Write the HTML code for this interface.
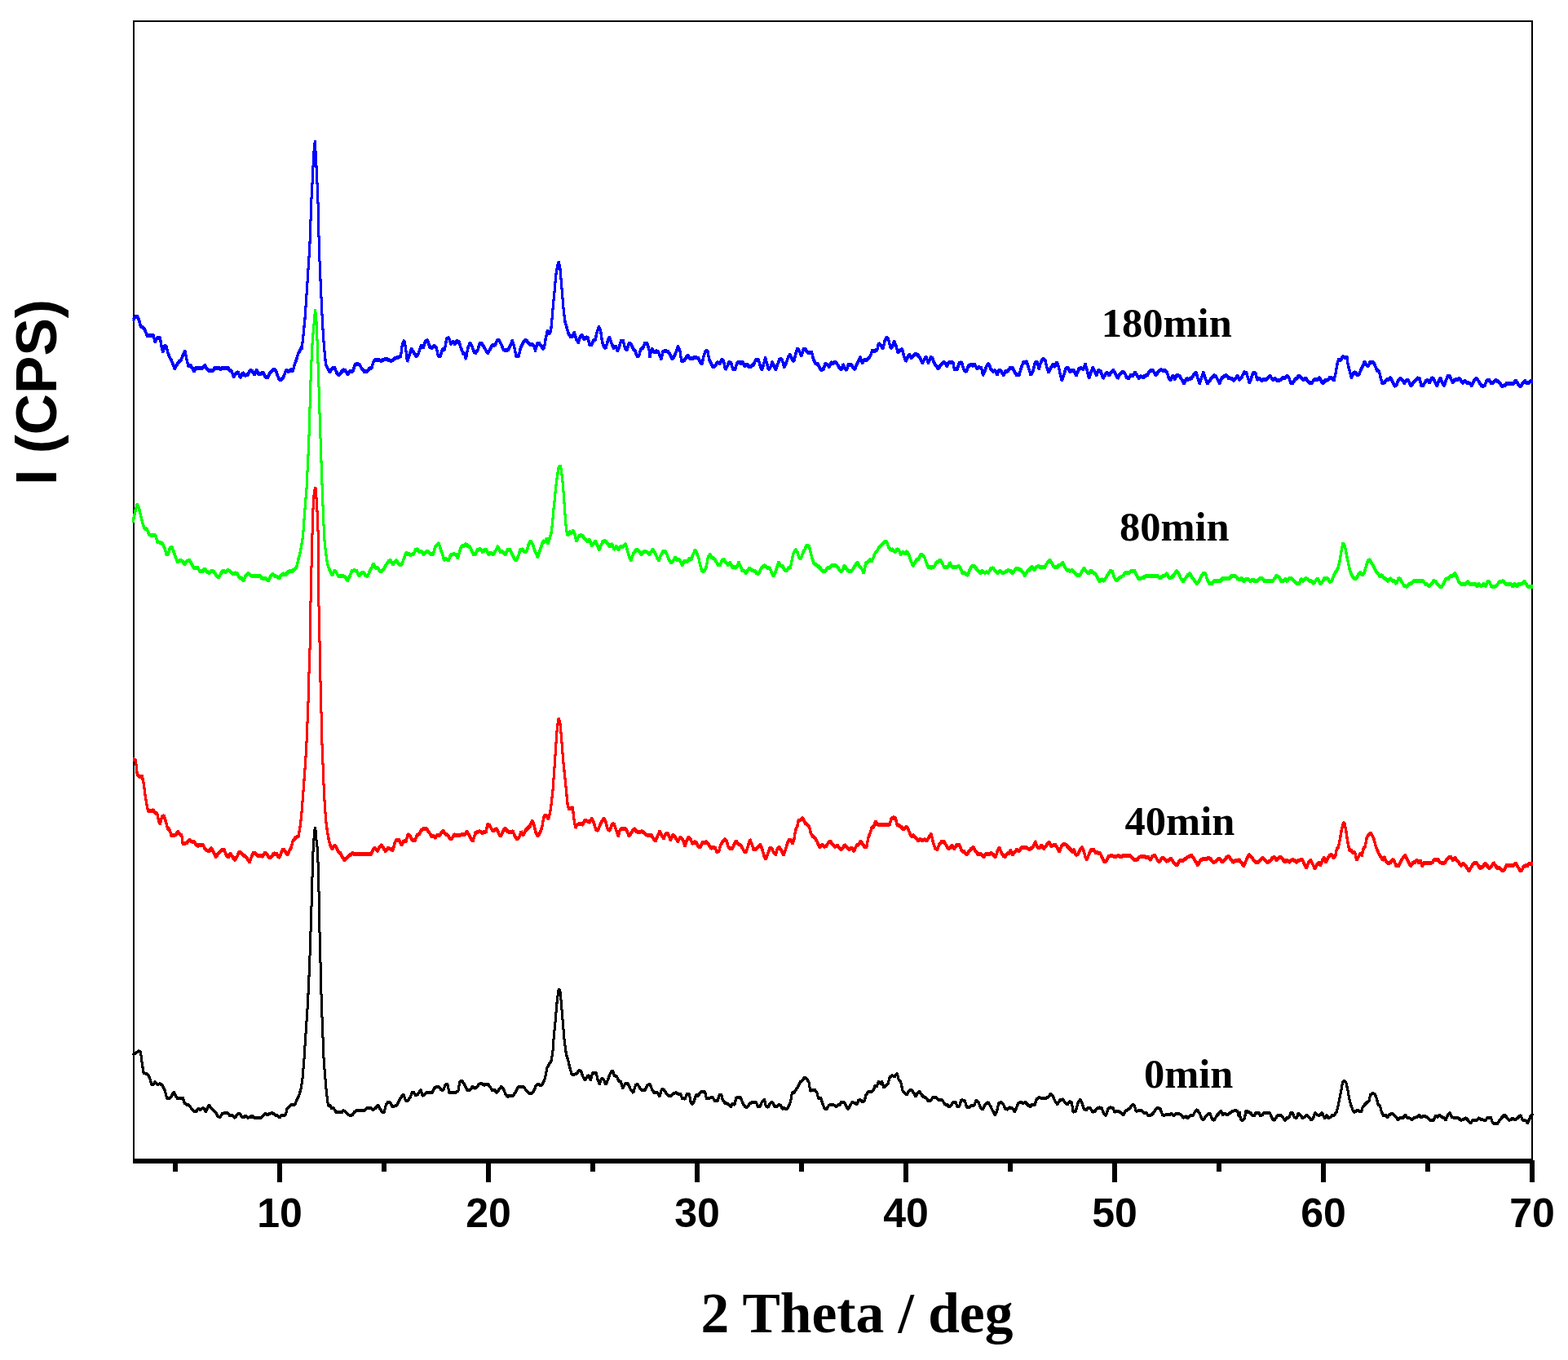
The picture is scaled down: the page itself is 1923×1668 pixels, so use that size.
<!DOCTYPE html>
<html lang="en">
<head>
<meta charset="utf-8">
<title>XRD patterns</title>
<style>
html,body{margin:0;padding:0;background:#fff;}
body{width:1923px;height:1668px;overflow:hidden;}
svg{display:block;}
.tick{font-family:"Liberation Sans",sans-serif;font-weight:bold;font-size:50px;fill:#000;text-anchor:middle;}
.ytitle{font-family:"Liberation Sans",sans-serif;font-weight:bold;font-size:69.5px;fill:#000;text-anchor:middle;}
.xtitle{font-family:"Liberation Serif",serif;font-weight:bold;font-size:69.5px;fill:#000;text-anchor:middle;}
.lab{font-family:"Liberation Serif",serif;font-weight:bold;font-size:50.5px;fill:#000;}
.curve{fill:none;stroke-linejoin:bevel;stroke-linecap:butt;}
</style>
</head>
<body>
<svg width="1923" height="1668" viewBox="0 0 1923 1668">
<rect x="0" y="0" width="1923" height="1668" fill="#ffffff"/>
<g fill="#000000" shape-rendering="crispEdges">
<rect x="163" y="25" width="1717" height="2"/>
<rect x="163" y="25" width="2" height="1402"/>
<rect x="1878" y="25" width="2" height="1400"/>
<rect x="163" y="1421" width="1716" height="6"/>
<rect x="212" y="1423" width="6" height="14"/>
<rect x="340" y="1423" width="6" height="27"/>
<rect x="468" y="1423" width="6" height="14"/>
<rect x="596" y="1423" width="6" height="27"/>
<rect x="724" y="1423" width="6" height="14"/>
<rect x="852" y="1423" width="6" height="27"/>
<rect x="980" y="1423" width="6" height="14"/>
<rect x="1108" y="1423" width="6" height="27"/>
<rect x="1236" y="1423" width="6" height="14"/>
<rect x="1364" y="1423" width="6" height="27"/>
<rect x="1492" y="1423" width="6" height="14"/>
<rect x="1620" y="1423" width="6" height="27"/>
<rect x="1748" y="1423" width="6" height="14"/>
<rect x="1876" y="1423" width="6" height="27"/>
</g>
<g shape-rendering="crispEdges">
<g stroke="#000000" stroke-width="3">
<polyline class="curve" points="163,1293.3 167.3,1290.5 170,1288.7 172.4,1289.6 173.7,1299.6 176,1315.1 178.2,1316 180.9,1316.9 183.7,1321.5 185.8,1329.7 188.2,1329.7 190,1326 192.8,1329.7 196.4,1328.7 199.1,1330.6 201.9,1336 204.6,1346 207.3,1346.9 210.1,1344.2 213.1,1338.8 215.5,1343.3 217.9,1346.9 221,1346 224.1,1346 226.4,1352.4 229.2,1354.2 231.9,1355.1 234.6,1358.8 237.4,1362.4 241,1362.4 243.4,1358.8 245.5,1360.6 248.3,1358.8 250.1,1358.8 252.5,1363.3 254.6,1357.9 256.5,1355.1 259.2,1358.8 261.9,1361.5 264.7,1364.2 267.4,1368.8 270.1,1369.7 272.5,1365.1 276.5,1364.8 279.2,1364.8 281.9,1367.9 285.6,1367.9 288.3,1370.6 291,1366.1 293.8,1364.8 296.5,1368.8 298.7,1370.2 301.1,1367.9 303.8,1370.2 307.4,1369.7 309.2,1367.9 311.1,1370.2 320.2,1370.2 322.9,1367.9 325.6,1365.1 328.4,1367 331.1,1365.1 334.7,1364.8 337.5,1367 340.2,1367.9 342.9,1370.2 345.6,1367 350.2,1367 352,1359.7 354.7,1357 357.5,1354.2 362,1354.2 363.8,1348.8 366.6,1343.3 369.3,1334.2 371.1,1321.5 372.9,1299.6 375.5,1259.5 377.5,1229.5 378.9,1199.5 380.5,1159.5 381.4,1129.5 382.4,1099.5 382.8,1083.5 383.6,1052.3 384.6,1033.5 385.2,1025.5 385.8,1018 386.5,1014.1 387.3,1019.9 387.9,1028.5 388.4,1033.5 389.6,1042.7 390.4,1069.7 391.2,1099.5 391.6,1129.5 392.5,1159.5 393.5,1199.5 394.3,1229.5 395.5,1259.5 397.1,1299.5 398.4,1316 400.3,1337.9 402.4,1355.1 404.8,1355.1 406.6,1358.8 409.3,1358.8 412.1,1363.3 414.8,1363.7 419.4,1363.7 421.2,1361.5 423.9,1363.3 426.6,1366.1 429.4,1367.9 432.1,1367 433.9,1364.2 436.7,1361.5 447.6,1361.1 449.4,1358.8 454.9,1358.8 457.6,1360.6 460.3,1358.8 463.6,1355.1 465.8,1358.8 468.5,1363.3 471.2,1363.3 473.4,1354.2 475.8,1351 478.5,1351.5 481.2,1357 484,1356 486.7,1355.1 488.5,1351.5 491.3,1346 494.9,1341.5 497.6,1349.7 500,1349.7 502.7,1346 505.5,1339.3 507.6,1339.3 510,1343.3 512.7,1341.5 516,1336 518.2,1343.3 520.4,1342.4 522.8,1339.3 527.3,1339.3 530,1339.7 532.8,1334.2 535.5,1332 538.2,1332.4 541,1336 543.7,1336.4 546.4,1329.7 548.8,1329.1 551,1339.7 554.6,1340 558.2,1339.7 561.9,1337.5 563.7,1326.6 566.4,1325.1 569.2,1328.7 572.8,1336.4 576.4,1336.4 579.2,1332.4 581.9,1334.2 584.6,1333.3 587.4,1329.1 591,1328.7 593.7,1330.2 598.3,1329.1 601,1332.4 603.7,1336.9 606.5,1336.4 609.2,1339.7 611.9,1336 614.7,1332 617.4,1335.1 620.1,1341.5 621.9,1344.2 629.2,1343.3 632,1339.7 634.7,1334.2 636.5,1332 642,1332 644.7,1336 648.3,1340 652.9,1340 655.6,1336 656.9,1331.5 660.2,1329.1 662,1330.2 664.7,1330.2 667.4,1325.1 669.3,1317.8 671.1,1308.7 673.8,1304.2 676.2,1300.5 678,1288.7 679.3,1270.5 681.1,1252.3 682.9,1230.5 684.7,1215.2 685.6,1212.1 687.1,1216.8 688.4,1230.5 690.2,1252.3 692,1274.1 694.4,1292.3 696.6,1299.6 698.8,1308.7 701.1,1316.9 703.8,1317.5 707.5,1316 710.2,1312.4 712.6,1313.3 714.8,1319.6 717.5,1324.2 720.2,1319.6 722,1318.7 724.2,1324.2 726.6,1316 731.1,1315.6 733,1323.3 735.2,1329.7 737.5,1322.4 740.2,1323.3 743,1329.7 745.7,1323.3 748.4,1316 751.2,1312.4 753.4,1318.7 756.6,1319.6 758.5,1325.1 761.2,1326 763.9,1334.2 766.6,1328.7 770.3,1328.7 773,1335.1 776.7,1339.7 779.4,1330.6 781.7,1328.7 784.8,1334.2 787.6,1336.9 791.2,1336.4 793.9,1330.6 797,1329.1 799.4,1335.1 802.1,1339.7 806.7,1339.7 809,1344.2 811.2,1336 814,1335.7 816.7,1339.7 819.4,1343.3 823.1,1343.3 825.8,1340.6 829.4,1339.7 832.2,1341.5 834.9,1341.5 836.7,1346.9 839.4,1346.9 840,1347.9 842.2,1341.5 845.5,1341.5 846.9,1350.6 849.1,1353.9 851.3,1349.7 853.7,1342.4 856.4,1343.3 859.1,1338.8 864.6,1338.8 866.4,1346.9 869.1,1346.9 871.9,1345.5 874.6,1346 876.4,1349.7 880,1349.7 882.2,1342.4 884.6,1341.9 886.4,1348.8 889.1,1352.4 892.8,1353.3 896.1,1357 898.2,1353.3 901,1354.2 902.8,1346 905.5,1345.1 908.3,1346 911,1352.4 913.7,1357 916.4,1357.5 919.2,1353.3 921.9,1351.5 927.4,1351.5 929.2,1356.4 931.9,1357 934.6,1350.6 937.4,1347.9 939.2,1356 941.9,1357.5 944.7,1352.4 947,1351 950.1,1356.4 952.8,1357 955,1354.6 957.4,1355.1 959.2,1359.7 961.6,1357.9 963.8,1360.1 966.5,1357.9 969.6,1350.6 971.4,1339.7 973.8,1339.7 976.1,1336 978.3,1333.3 981.1,1326.9 983.8,1325.1 986.5,1321.1 989.2,1322.4 992,1326.9 993.8,1337.5 996.5,1336 999.3,1336.4 1002,1339.7 1003.8,1346.9 1006.5,1346 1008.9,1353.3 1011.1,1358.8 1013.8,1359.7 1016.5,1355.1 1020.2,1354.6 1023.8,1355.1 1025.6,1357 1027.5,1354.6 1030.2,1354.6 1031.1,1351.5 1035.7,1351.5 1037.5,1356 1040.2,1359.7 1042.9,1355.1 1044.8,1351.5 1048.4,1352.4 1051.1,1353.9 1052.9,1348.8 1055.7,1348.8 1057.5,1350.6 1060.2,1349.7 1062,1342.4 1064.8,1338.8 1068.4,1338.8 1071.1,1336.9 1073,1331.5 1075.2,1332 1077.5,1326 1079.9,1328.7 1081.7,1326 1083.9,1333.3 1086.6,1330.6 1089,1328.7 1091.2,1320.6 1093.9,1318.7 1097.5,1319.6 1100.3,1316 1102.1,1323.3 1104.8,1326.9 1107.2,1337.8 1109.4,1339.7 1112.1,1342.4 1114.5,1337.8 1117.6,1335.7 1120.3,1339.7 1123,1344.2 1125.4,1339.7 1127.6,1338.2 1130.3,1342.4 1133,1345.1 1135.8,1346 1138.5,1349.7 1141.2,1349.7 1144,1345.5 1147.6,1345.5 1150.3,1347.9 1153.1,1348.8 1155.8,1348.8 1158.5,1353.9 1161.2,1354.2 1164,1357 1166.7,1355.1 1169.1,1351 1172.2,1351.5 1174,1357 1176.7,1356 1178.9,1348.8 1180,1348.8 1183.3,1349.7 1185.5,1357 1189.1,1357.5 1191.8,1355.1 1194.6,1355.7 1197.3,1348.8 1200,1351.5 1202.8,1358.8 1205.5,1359.7 1208.2,1354.2 1211.9,1351.5 1214.6,1356 1217.3,1361.5 1220.4,1367 1222.8,1361.5 1224.6,1353.3 1227.7,1351 1230.6,1354.2 1232.8,1359.7 1235.5,1360.1 1237.9,1357.9 1241.9,1358.8 1244.1,1363.3 1246.4,1358.8 1248.8,1352.4 1251.9,1351.5 1254.6,1352.4 1257.4,1351.5 1260.1,1354.2 1263.4,1357 1265.5,1354.2 1269.2,1354.6 1271,1347.9 1274.6,1345.5 1278.3,1346.9 1281.9,1346.9 1285.6,1344.8 1288.8,1341.1 1291.4,1344.2 1293.8,1349.7 1296.8,1353.9 1299.8,1348.8 1303.8,1347.9 1306.5,1352.4 1309.2,1354.2 1311.4,1350.6 1314.3,1351.5 1316.1,1363.3 1319.2,1362.4 1322,1352.4 1324.7,1347.9 1327.1,1352.4 1329.2,1359.7 1332.5,1360.6 1334.7,1357.9 1337.4,1358.8 1339.8,1363.3 1342.9,1362.4 1345.6,1358.8 1348.9,1357.9 1351.1,1358.8 1353.3,1364.2 1356.2,1367.9 1359.3,1358.8 1362,1357.9 1365.3,1358.2 1366.6,1363.3 1369.3,1362.4 1372.9,1363 1374.7,1364.2 1377.5,1367 1380.2,1362.4 1382.9,1360.6 1385.7,1358.8 1388.4,1354.6 1391.1,1355.1 1393.3,1362.4 1396.6,1361.5 1400.2,1361.9 1402.4,1364.2 1405.7,1364.2 1408.4,1367.9 1412.1,1367 1414.8,1364.2 1417.5,1359.7 1420.2,1357.9 1423,1359.7 1425.7,1367 1428.4,1367.3 1431.2,1366.1 1433.9,1367 1436.6,1365.1 1439.4,1367.9 1442.1,1365.1 1445.7,1365.1 1448.5,1367 1451.2,1370.2 1454.8,1368.8 1456.7,1370.6 1459.4,1367.9 1463,1367.9 1465.8,1362.4 1468.5,1360.6 1471.2,1365.1 1473.4,1370.6 1475.8,1373.3 1478.5,1368.8 1481.2,1366.1 1484,1365.1 1486.7,1372.4 1489.4,1373.3 1492.1,1367.9 1494.9,1365.1 1497.6,1361.5 1499.4,1367 1502.2,1365.1 1504.9,1367 1507.6,1365.1 1511.3,1362.4 1514.9,1361.5 1517.6,1362.4 1519.4,1368.8 1520,1363.3 1521.5,1372.4 1524,1373.9 1526.4,1370.6 1528.2,1361.5 1530.9,1363.7 1533.7,1364.2 1536,1367.9 1538.2,1367.9 1540,1364.2 1543.7,1364.2 1545.5,1367.9 1548.2,1367 1550,1364.2 1557.3,1364.2 1559.1,1368.8 1561.5,1373.3 1563.7,1372.4 1566.4,1367.9 1569.1,1367 1571.9,1367.9 1573.7,1370.6 1576.1,1373.9 1578.2,1370.6 1581,1370.2 1582.8,1364.2 1585.2,1364.8 1587.3,1369.7 1590.1,1370.6 1592.4,1364.8 1594.6,1367 1597.4,1370.6 1600.1,1369.7 1602.8,1367 1605.2,1369.7 1608.3,1373.3 1611,1369.7 1612.8,1364.2 1615.6,1367 1619.2,1367 1621.6,1364.2 1623.4,1368.8 1624.7,1371 1627,1367 1629.2,1370.6 1631.9,1369.7 1633.8,1367 1636.5,1367 1639.2,1363.3 1641,1356 1642.9,1346.9 1644.7,1337.8 1646.5,1326.9 1648.3,1325.1 1650.7,1326.9 1652.9,1336 1654.7,1346.9 1656.9,1355.1 1659.2,1361.5 1661.1,1363.7 1663.8,1361.5 1666.5,1361.9 1669.6,1363.3 1671.1,1357.9 1673.8,1354.2 1676.5,1351.5 1679.3,1349.7 1680.5,1342.4 1682.9,1340.6 1685.6,1341.1 1687.8,1345.1 1690.2,1354.2 1692.5,1356 1694.4,1363.3 1696.5,1367.9 1699.3,1367 1701.1,1370.2 1703.8,1367 1706.6,1364.8 1709.3,1367 1712,1369.7 1714.7,1372.8 1717.5,1370.6 1721.1,1370.2 1723.5,1367 1725.7,1370.6 1729.3,1371 1731.5,1373.3 1733.9,1370.6 1737.5,1369.7 1740.2,1367 1743,1370.2 1745.7,1367.9 1748.4,1368.8 1751.1,1370.6 1753.3,1373.3 1758.4,1373.3 1760.6,1367.9 1763,1369.7 1765.7,1367 1768.4,1369.7 1771.2,1370.6 1773,1373.3 1775.7,1367 1778.1,1364.2 1780.6,1369.7 1783.9,1370.6 1788.5,1370.6 1791.2,1373.3 1794.8,1372.8 1797.6,1370.6 1800.3,1373.3 1803.6,1377 1805.8,1373.9 1811.2,1373.3 1813.4,1370.6 1816.7,1372.8 1822.1,1373.3 1824.3,1370.2 1828.5,1370.2 1830.3,1376.1 1832.7,1377.9 1836.7,1377.5 1839.4,1373.3 1842.2,1369.7 1844.9,1367 1847.6,1369.7 1850.3,1373.3 1853.1,1372.8 1855.3,1370.6 1858.2,1373.3 1861.3,1370.6 1864.9,1367.3 1867,1372.8 1869.5,1373.8 1872.1,1374.1 1873.3,1377.2 1875.2,1373.4 1876.9,1369 1880,1365.2"/>
<polyline class="curve" transform="translate(0 1)" points="163,1293.3 167.3,1290.5 170,1288.7 172.4,1289.6 173.7,1299.6 176,1315.1 178.2,1316 180.9,1316.9 183.7,1321.5 185.8,1329.7 188.2,1329.7 190,1326 192.8,1329.7 196.4,1328.7 199.1,1330.6 201.9,1336 204.6,1346 207.3,1346.9 210.1,1344.2 213.1,1338.8 215.5,1343.3 217.9,1346.9 221,1346 224.1,1346 226.4,1352.4 229.2,1354.2 231.9,1355.1 234.6,1358.8 237.4,1362.4 241,1362.4 243.4,1358.8 245.5,1360.6 248.3,1358.8 250.1,1358.8 252.5,1363.3 254.6,1357.9 256.5,1355.1 259.2,1358.8 261.9,1361.5 264.7,1364.2 267.4,1368.8 270.1,1369.7 272.5,1365.1 276.5,1364.8 279.2,1364.8 281.9,1367.9 285.6,1367.9 288.3,1370.6 291,1366.1 293.8,1364.8 296.5,1368.8 298.7,1370.2 301.1,1367.9 303.8,1370.2 307.4,1369.7 309.2,1367.9 311.1,1370.2 320.2,1370.2 322.9,1367.9 325.6,1365.1 328.4,1367 331.1,1365.1 334.7,1364.8 337.5,1367 340.2,1367.9 342.9,1370.2 345.6,1367 350.2,1367 352,1359.7 354.7,1357 357.5,1354.2 362,1354.2 363.8,1348.8 366.6,1343.3 369.3,1334.2 371.1,1321.5 372.9,1299.6 375.5,1259.5 377.5,1229.5 378.9,1199.5 380.5,1159.5 381.4,1129.5 382.4,1099.5 382.8,1083.5 383.6,1052.3 384.6,1033.5 385.2,1025.5 385.8,1018 386.5,1014.1 387.3,1019.9 387.9,1028.5 388.4,1033.5 389.6,1042.7 390.4,1069.7 391.2,1099.5 391.6,1129.5 392.5,1159.5 393.5,1199.5 394.3,1229.5 395.5,1259.5 397.1,1299.5 398.4,1316 400.3,1337.9 402.4,1355.1 404.8,1355.1 406.6,1358.8 409.3,1358.8 412.1,1363.3 414.8,1363.7 419.4,1363.7 421.2,1361.5 423.9,1363.3 426.6,1366.1 429.4,1367.9 432.1,1367 433.9,1364.2 436.7,1361.5 447.6,1361.1 449.4,1358.8 454.9,1358.8 457.6,1360.6 460.3,1358.8 463.6,1355.1 465.8,1358.8 468.5,1363.3 471.2,1363.3 473.4,1354.2 475.8,1351 478.5,1351.5 481.2,1357 484,1356 486.7,1355.1 488.5,1351.5 491.3,1346 494.9,1341.5 497.6,1349.7 500,1349.7 502.7,1346 505.5,1339.3 507.6,1339.3 510,1343.3 512.7,1341.5 516,1336 518.2,1343.3 520.4,1342.4 522.8,1339.3 527.3,1339.3 530,1339.7 532.8,1334.2 535.5,1332 538.2,1332.4 541,1336 543.7,1336.4 546.4,1329.7 548.8,1329.1 551,1339.7 554.6,1340 558.2,1339.7 561.9,1337.5 563.7,1326.6 566.4,1325.1 569.2,1328.7 572.8,1336.4 576.4,1336.4 579.2,1332.4 581.9,1334.2 584.6,1333.3 587.4,1329.1 591,1328.7 593.7,1330.2 598.3,1329.1 601,1332.4 603.7,1336.9 606.5,1336.4 609.2,1339.7 611.9,1336 614.7,1332 617.4,1335.1 620.1,1341.5 621.9,1344.2 629.2,1343.3 632,1339.7 634.7,1334.2 636.5,1332 642,1332 644.7,1336 648.3,1340 652.9,1340 655.6,1336 656.9,1331.5 660.2,1329.1 662,1330.2 664.7,1330.2 667.4,1325.1 669.3,1317.8 671.1,1308.7 673.8,1304.2 676.2,1300.5 678,1288.7 679.3,1270.5 681.1,1252.3 682.9,1230.5 684.7,1215.2 685.6,1212.1 687.1,1216.8 688.4,1230.5 690.2,1252.3 692,1274.1 694.4,1292.3 696.6,1299.6 698.8,1308.7 701.1,1316.9 703.8,1317.5 707.5,1316 710.2,1312.4 712.6,1313.3 714.8,1319.6 717.5,1324.2 720.2,1319.6 722,1318.7 724.2,1324.2 726.6,1316 731.1,1315.6 733,1323.3 735.2,1329.7 737.5,1322.4 740.2,1323.3 743,1329.7 745.7,1323.3 748.4,1316 751.2,1312.4 753.4,1318.7 756.6,1319.6 758.5,1325.1 761.2,1326 763.9,1334.2 766.6,1328.7 770.3,1328.7 773,1335.1 776.7,1339.7 779.4,1330.6 781.7,1328.7 784.8,1334.2 787.6,1336.9 791.2,1336.4 793.9,1330.6 797,1329.1 799.4,1335.1 802.1,1339.7 806.7,1339.7 809,1344.2 811.2,1336 814,1335.7 816.7,1339.7 819.4,1343.3 823.1,1343.3 825.8,1340.6 829.4,1339.7 832.2,1341.5 834.9,1341.5 836.7,1346.9 839.4,1346.9 840,1347.9 842.2,1341.5 845.5,1341.5 846.9,1350.6 849.1,1353.9 851.3,1349.7 853.7,1342.4 856.4,1343.3 859.1,1338.8 864.6,1338.8 866.4,1346.9 869.1,1346.9 871.9,1345.5 874.6,1346 876.4,1349.7 880,1349.7 882.2,1342.4 884.6,1341.9 886.4,1348.8 889.1,1352.4 892.8,1353.3 896.1,1357 898.2,1353.3 901,1354.2 902.8,1346 905.5,1345.1 908.3,1346 911,1352.4 913.7,1357 916.4,1357.5 919.2,1353.3 921.9,1351.5 927.4,1351.5 929.2,1356.4 931.9,1357 934.6,1350.6 937.4,1347.9 939.2,1356 941.9,1357.5 944.7,1352.4 947,1351 950.1,1356.4 952.8,1357 955,1354.6 957.4,1355.1 959.2,1359.7 961.6,1357.9 963.8,1360.1 966.5,1357.9 969.6,1350.6 971.4,1339.7 973.8,1339.7 976.1,1336 978.3,1333.3 981.1,1326.9 983.8,1325.1 986.5,1321.1 989.2,1322.4 992,1326.9 993.8,1337.5 996.5,1336 999.3,1336.4 1002,1339.7 1003.8,1346.9 1006.5,1346 1008.9,1353.3 1011.1,1358.8 1013.8,1359.7 1016.5,1355.1 1020.2,1354.6 1023.8,1355.1 1025.6,1357 1027.5,1354.6 1030.2,1354.6 1031.1,1351.5 1035.7,1351.5 1037.5,1356 1040.2,1359.7 1042.9,1355.1 1044.8,1351.5 1048.4,1352.4 1051.1,1353.9 1052.9,1348.8 1055.7,1348.8 1057.5,1350.6 1060.2,1349.7 1062,1342.4 1064.8,1338.8 1068.4,1338.8 1071.1,1336.9 1073,1331.5 1075.2,1332 1077.5,1326 1079.9,1328.7 1081.7,1326 1083.9,1333.3 1086.6,1330.6 1089,1328.7 1091.2,1320.6 1093.9,1318.7 1097.5,1319.6 1100.3,1316 1102.1,1323.3 1104.8,1326.9 1107.2,1337.8 1109.4,1339.7 1112.1,1342.4 1114.5,1337.8 1117.6,1335.7 1120.3,1339.7 1123,1344.2 1125.4,1339.7 1127.6,1338.2 1130.3,1342.4 1133,1345.1 1135.8,1346 1138.5,1349.7 1141.2,1349.7 1144,1345.5 1147.6,1345.5 1150.3,1347.9 1153.1,1348.8 1155.8,1348.8 1158.5,1353.9 1161.2,1354.2 1164,1357 1166.7,1355.1 1169.1,1351 1172.2,1351.5 1174,1357 1176.7,1356 1178.9,1348.8 1180,1348.8 1183.3,1349.7 1185.5,1357 1189.1,1357.5 1191.8,1355.1 1194.6,1355.7 1197.3,1348.8 1200,1351.5 1202.8,1358.8 1205.5,1359.7 1208.2,1354.2 1211.9,1351.5 1214.6,1356 1217.3,1361.5 1220.4,1367 1222.8,1361.5 1224.6,1353.3 1227.7,1351 1230.6,1354.2 1232.8,1359.7 1235.5,1360.1 1237.9,1357.9 1241.9,1358.8 1244.1,1363.3 1246.4,1358.8 1248.8,1352.4 1251.9,1351.5 1254.6,1352.4 1257.4,1351.5 1260.1,1354.2 1263.4,1357 1265.5,1354.2 1269.2,1354.6 1271,1347.9 1274.6,1345.5 1278.3,1346.9 1281.9,1346.9 1285.6,1344.8 1288.8,1341.1 1291.4,1344.2 1293.8,1349.7 1296.8,1353.9 1299.8,1348.8 1303.8,1347.9 1306.5,1352.4 1309.2,1354.2 1311.4,1350.6 1314.3,1351.5 1316.1,1363.3 1319.2,1362.4 1322,1352.4 1324.7,1347.9 1327.1,1352.4 1329.2,1359.7 1332.5,1360.6 1334.7,1357.9 1337.4,1358.8 1339.8,1363.3 1342.9,1362.4 1345.6,1358.8 1348.9,1357.9 1351.1,1358.8 1353.3,1364.2 1356.2,1367.9 1359.3,1358.8 1362,1357.9 1365.3,1358.2 1366.6,1363.3 1369.3,1362.4 1372.9,1363 1374.7,1364.2 1377.5,1367 1380.2,1362.4 1382.9,1360.6 1385.7,1358.8 1388.4,1354.6 1391.1,1355.1 1393.3,1362.4 1396.6,1361.5 1400.2,1361.9 1402.4,1364.2 1405.7,1364.2 1408.4,1367.9 1412.1,1367 1414.8,1364.2 1417.5,1359.7 1420.2,1357.9 1423,1359.7 1425.7,1367 1428.4,1367.3 1431.2,1366.1 1433.9,1367 1436.6,1365.1 1439.4,1367.9 1442.1,1365.1 1445.7,1365.1 1448.5,1367 1451.2,1370.2 1454.8,1368.8 1456.7,1370.6 1459.4,1367.9 1463,1367.9 1465.8,1362.4 1468.5,1360.6 1471.2,1365.1 1473.4,1370.6 1475.8,1373.3 1478.5,1368.8 1481.2,1366.1 1484,1365.1 1486.7,1372.4 1489.4,1373.3 1492.1,1367.9 1494.9,1365.1 1497.6,1361.5 1499.4,1367 1502.2,1365.1 1504.9,1367 1507.6,1365.1 1511.3,1362.4 1514.9,1361.5 1517.6,1362.4 1519.4,1368.8 1520,1363.3 1521.5,1372.4 1524,1373.9 1526.4,1370.6 1528.2,1361.5 1530.9,1363.7 1533.7,1364.2 1536,1367.9 1538.2,1367.9 1540,1364.2 1543.7,1364.2 1545.5,1367.9 1548.2,1367 1550,1364.2 1557.3,1364.2 1559.1,1368.8 1561.5,1373.3 1563.7,1372.4 1566.4,1367.9 1569.1,1367 1571.9,1367.9 1573.7,1370.6 1576.1,1373.9 1578.2,1370.6 1581,1370.2 1582.8,1364.2 1585.2,1364.8 1587.3,1369.7 1590.1,1370.6 1592.4,1364.8 1594.6,1367 1597.4,1370.6 1600.1,1369.7 1602.8,1367 1605.2,1369.7 1608.3,1373.3 1611,1369.7 1612.8,1364.2 1615.6,1367 1619.2,1367 1621.6,1364.2 1623.4,1368.8 1624.7,1371 1627,1367 1629.2,1370.6 1631.9,1369.7 1633.8,1367 1636.5,1367 1639.2,1363.3 1641,1356 1642.9,1346.9 1644.7,1337.8 1646.5,1326.9 1648.3,1325.1 1650.7,1326.9 1652.9,1336 1654.7,1346.9 1656.9,1355.1 1659.2,1361.5 1661.1,1363.7 1663.8,1361.5 1666.5,1361.9 1669.6,1363.3 1671.1,1357.9 1673.8,1354.2 1676.5,1351.5 1679.3,1349.7 1680.5,1342.4 1682.9,1340.6 1685.6,1341.1 1687.8,1345.1 1690.2,1354.2 1692.5,1356 1694.4,1363.3 1696.5,1367.9 1699.3,1367 1701.1,1370.2 1703.8,1367 1706.6,1364.8 1709.3,1367 1712,1369.7 1714.7,1372.8 1717.5,1370.6 1721.1,1370.2 1723.5,1367 1725.7,1370.6 1729.3,1371 1731.5,1373.3 1733.9,1370.6 1737.5,1369.7 1740.2,1367 1743,1370.2 1745.7,1367.9 1748.4,1368.8 1751.1,1370.6 1753.3,1373.3 1758.4,1373.3 1760.6,1367.9 1763,1369.7 1765.7,1367 1768.4,1369.7 1771.2,1370.6 1773,1373.3 1775.7,1367 1778.1,1364.2 1780.6,1369.7 1783.9,1370.6 1788.5,1370.6 1791.2,1373.3 1794.8,1372.8 1797.6,1370.6 1800.3,1373.3 1803.6,1377 1805.8,1373.9 1811.2,1373.3 1813.4,1370.6 1816.7,1372.8 1822.1,1373.3 1824.3,1370.2 1828.5,1370.2 1830.3,1376.1 1832.7,1377.9 1836.7,1377.5 1839.4,1373.3 1842.2,1369.7 1844.9,1367 1847.6,1369.7 1850.3,1373.3 1853.1,1372.8 1855.3,1370.6 1858.2,1373.3 1861.3,1370.6 1864.9,1367.3 1867,1372.8 1869.5,1373.8 1872.1,1374.1 1873.3,1377.2 1875.2,1373.4 1876.9,1369 1880,1365.2"/>
</g>
<g stroke="#ff0000" stroke-width="3">
<polyline class="curve" points="163,930 166.4,931.8 168.2,948.2 170.9,951.8 174.2,950.9 176.4,960.9 178.2,975.5 179.7,984.6 181.5,993.7 184.6,994 188.2,992.8 190.6,996.4 192.8,996.9 194.6,1006.4 196.4,1009.1 198.6,1000.9 201,999.5 203.3,1006.4 205.5,1014.6 208.2,1017.3 210.1,1023.7 212.8,1023.7 215.5,1022.8 218.2,1019.1 221,1022.8 222.8,1023.7 224.1,1033.7 227,1033.3 229.2,1032.8 231.9,1029.2 234.6,1031 238.3,1031.5 240.1,1034.6 242.8,1036.4 245.5,1035.2 249.2,1035.2 251.4,1040.1 253.7,1041.9 256.5,1042.8 259.2,1039.2 261.9,1044.6 264.7,1050.1 267.4,1046.4 270.1,1043.7 272.8,1041 275,1041.4 277.4,1047.4 280.1,1050.1 282.3,1045.5 285.2,1050.1 288.3,1053.7 291,1049.2 292.9,1044.6 295.6,1045 298.3,1048.3 301.1,1049.2 303.8,1052.8 306,1056.5 308.3,1050.1 310.7,1045 313.3,1045.5 316.5,1049.2 319.3,1048.3 322,1049.2 324.7,1045 327.1,1046.1 329.3,1050.1 332.9,1050.1 335.6,1045.5 337.5,1047.4 339.3,1045.5 341.6,1050.5 343.8,1048.3 346,1041.9 348.4,1041 350.7,1044.6 352.6,1047.4 355.1,1041.9 357.5,1037.3 359.3,1030.1 361.7,1027.3 363.8,1025.5 366,1024.6 367.9,1013.7 369.7,999.1 371.1,980.9 372.6,960.9 374.4,937.2 375.9,911.8 376.6,894 377.8,867.9 378.8,830.1 380.1,792.4 380.9,742 382.3,681 382.6,669.2 383.6,632 384.6,611 385.6,602 386.5,597.2 387.5,600 388.6,620.6 389.6,633.2 390.5,670.4 391,742 391.9,779.8 392.9,830.1 393.9,867.9 394.4,889 394.8,906.3 395.9,933.6 397,960.9 398.4,988.2 400.2,1010 402.4,1024.6 404.8,1035.5 407.5,1040.1 410.3,1035.5 412.6,1038.3 414.8,1043.7 417.5,1045.5 419.9,1050.1 422.1,1053.7 424.8,1051.9 428.5,1048.3 432.1,1045.5 434.8,1046.4 454.9,1046.4 457.6,1041 459.9,1039.2 463,1042.8 465.8,1037.3 468,1035.5 470.3,1039.2 472.7,1042.8 475.8,1039.2 478.5,1040.1 481.8,1041.9 484,1033.7 485.8,1029.2 489.4,1029.2 492.2,1035.5 494.9,1031 498.2,1030.1 500,1022.8 502.7,1023.7 505.5,1029.2 508.7,1030.1 511.3,1023.7 514.2,1021.9 516.7,1017.3 520,1015.2 523.3,1015.9 526.4,1020.1 529.1,1024.3 531.9,1024.6 534.2,1026.4 536.4,1022.8 539.1,1023.7 541.5,1020.1 543.7,1018.3 546.4,1021.9 549.1,1023.7 551.9,1027.4 554.2,1027.4 556.8,1022.8 560.1,1023.7 563.7,1023.7 566.4,1022.4 570.1,1022.8 572.8,1018.8 575.5,1023.7 577.9,1028.3 580.1,1030.5 582.8,1021 585.5,1019.2 588.8,1018.8 591,1020.6 593.7,1019.5 596.1,1019.2 597.9,1010.1 601,1011.9 603.7,1017.3 606.5,1017.3 609.2,1015.5 611.9,1021.9 613.8,1024.6 616.5,1019.2 619.2,1015.2 622.3,1018.3 624.7,1020.1 629.2,1018.8 631.4,1024.6 633.8,1027.9 636.5,1026.4 639.2,1019.2 641.6,1023.7 644.7,1017.3 647.4,1014.6 650.2,1011.9 652.5,1005.5 654.7,1010.1 656.9,1019.2 659.3,1024.6 662,1021 664.7,1013.7 666.5,1002.8 668.4,999.1 671.1,1000.1 672.5,1003.7 674.7,995.5 676.2,984.6 678,968.2 679.3,950 680.6,931.8 682,910 683.5,889.9 685.3,879.9 687.1,888.1 688.9,908.1 690.7,931.8 692.6,950 694.4,968.2 696.2,986.4 697.5,991 700.2,990.4 702.4,989.7 703.8,1002.8 705.7,1013.7 708.4,1010.1 711.1,1009.7 714.8,1010.1 717,1005.5 720.2,1006.1 723,1007.3 725.7,1002.8 728.4,1008.2 730.8,1016.4 733.3,1017.3 735.7,1011 738.1,1006.4 740.6,1002.8 743,1007.3 745.3,1016.4 747.9,1017.3 750.8,1009.7 753.4,1010.1 755.7,1017.3 758.1,1024.3 760.3,1017.3 763,1015.2 767.6,1015.5 769.7,1020.1 771.6,1024.6 774.5,1020.1 777.6,1015.5 780.3,1018.3 783,1020.1 786.7,1018.8 789.4,1019.5 792.1,1022.8 795.8,1023.7 798.5,1022.8 801.2,1027.4 804.3,1030.1 806.7,1023.7 809,1018.8 811.6,1023.7 814,1027.4 816.3,1021.9 819.4,1021.9 822.2,1029.2 825.4,1022.8 828.5,1026.4 831.3,1031 834.5,1025.5 837.6,1029.2 839.6,1035.5 840,1036.4 842.2,1030 844.6,1025.5 847.3,1029.1 849.1,1033.7 851.8,1031.5 854.2,1032.8 856.4,1037.3 859.1,1037.3 861.5,1032.2 864,1032.8 866.4,1031.5 869.1,1035.1 871.9,1039.1 874.6,1038.8 877.3,1039.1 879.1,1043.7 881.9,1042.8 883.7,1035.5 886.4,1031 889.1,1028.2 891.3,1031 893.1,1037.3 896.1,1040.1 898.6,1039.1 901,1032.8 903.3,1031 905.9,1034.6 908.3,1035.5 910.6,1039.1 912.8,1043.7 915.5,1043.1 917.4,1036.4 919.7,1029.1 921.9,1033.7 924.1,1040.6 927,1040.6 929.5,1038.2 932.5,1035.1 934.6,1040.1 936.8,1048.2 939.2,1052.8 941.6,1046.4 944.1,1039.1 946.5,1039.5 948.8,1044.6 951.4,1047.3 953.2,1040.1 955.6,1038.2 958.3,1041.9 961,1047.3 963.4,1041 965.6,1033.7 967.8,1029.1 970.1,1029.7 972,1033.7 974.3,1026.4 975.6,1017.3 978,1011.8 979.2,1005.5 982,1004.6 984.7,1002.4 987.1,1008.2 990.2,1010.4 992.5,1012.8 994.3,1020.9 996.5,1024.6 999.3,1026.4 1001.6,1030 1003.8,1035.5 1005.6,1038.2 1008.4,1035.5 1011.1,1037.3 1013.8,1036.4 1016.2,1031.9 1018.4,1031 1021.1,1034.6 1023.8,1037.3 1027.5,1036.4 1030.2,1040.1 1032.9,1040.1 1035.7,1035.5 1038.4,1038.2 1041.1,1040.6 1044.8,1039.1 1047.5,1042.8 1050.2,1036.4 1052.9,1034.6 1055.7,1031 1058.4,1034.6 1060.6,1038.2 1063,1037.3 1064.8,1026.4 1067.1,1020.9 1069,1014.6 1071.5,1012.8 1073.9,1006.4 1075.7,1010 1091.2,1010 1093,1003.7 1095.7,1001.8 1098.5,1002.7 1099.9,1010 1103,1011.8 1105.7,1013.7 1108.5,1016.4 1111.2,1012.8 1113.4,1014.6 1115.7,1020.9 1117.6,1024.6 1120.3,1023.7 1123,1026.4 1125.8,1030 1128.5,1028.6 1131.2,1030 1133.9,1028.6 1137,1030 1139.9,1024.6 1142.1,1021.9 1144.3,1031.9 1146.7,1039.1 1149.4,1041 1152.1,1034.6 1154.9,1031 1157.6,1031 1160.3,1035.5 1163.1,1040.1 1165.8,1038.2 1167.6,1036.4 1170.3,1040.1 1173.1,1035.5 1176.7,1035.1 1178.9,1041 1180,1042.8 1182.7,1043.7 1185.5,1047.3 1188.2,1043.7 1190.9,1040.1 1193.7,1038.2 1196.4,1042.8 1199.1,1046.4 1202.8,1046.1 1206.4,1050.1 1209.1,1046.4 1212.8,1046.8 1215.5,1045.5 1218.2,1047.3 1221,1050.1 1223.3,1042.8 1225.5,1038.2 1227.7,1043.7 1230.1,1048.2 1232.4,1050.1 1235,1046.1 1237.9,1045.5 1239.2,1041.9 1241.9,1047.3 1244.6,1043.7 1247,1041 1250.1,1042.8 1252.8,1038.8 1258.3,1038.2 1261.9,1040.6 1265.5,1039.1 1268.3,1035.5 1269.5,1031 1271.9,1037.3 1274.6,1039.1 1277.4,1035.5 1280.1,1040.1 1282.8,1036.4 1286.5,1031.5 1288.8,1036.4 1291.9,1035.9 1294.3,1035.1 1296.8,1039.1 1299.2,1043.7 1301.6,1037.3 1303.8,1034.6 1307.4,1035.1 1310.1,1038.2 1312.9,1041 1315.6,1043.7 1317.4,1041 1319.2,1047.3 1322,1046.8 1324.7,1041 1327.1,1038.2 1329.2,1042.8 1331.1,1050.1 1332.9,1053.3 1335.6,1046.4 1338.3,1041.3 1341.1,1041 1343.4,1044.6 1346.5,1045 1349.3,1045.5 1352,1051.9 1354.7,1056.4 1357.5,1053.7 1359.8,1049.2 1363.8,1048.6 1367.5,1050.1 1371.1,1048.6 1374.7,1049.7 1378.4,1048.2 1385.7,1048.2 1388.4,1051 1391.1,1053.7 1394.8,1053.3 1397.5,1050.1 1402,1049.2 1405.7,1050.4 1408.4,1050.4 1410.8,1053.7 1413.3,1049.2 1416.6,1048.2 1419.3,1053.7 1421.7,1056.4 1424.8,1051.5 1427.5,1051.9 1430.3,1055.2 1433,1054.6 1435.7,1051.5 1438.5,1055.5 1441.2,1059.2 1443.5,1060.1 1446.6,1054.6 1450.3,1054.6 1453,1052.8 1456.7,1050.1 1461.2,1048.2 1463.9,1051.5 1466.7,1056.4 1469,1060.1 1472.1,1054.6 1475.8,1051.9 1478.5,1052.8 1482.1,1051.5 1484.9,1052.8 1487.6,1056.4 1490.3,1055.9 1493.1,1053.3 1495.8,1051.9 1498.5,1055.9 1501.2,1054.6 1504,1051 1506.7,1048.6 1509.4,1052.8 1512.2,1056.4 1514.9,1054.6 1518.5,1054.1 1520,1053.7 1522.7,1057.3 1525.1,1061 1527.3,1057.3 1529.5,1051 1531.8,1047.3 1534.6,1050.1 1537.3,1053.7 1539.7,1056.4 1543.7,1056.4 1546.4,1052.8 1548.8,1051 1551.3,1053.7 1554.2,1056.4 1557.3,1055.5 1560,1051.9 1562.8,1050.4 1565.5,1053.7 1568.2,1051 1571,1050.4 1573.7,1053.7 1576.1,1056.4 1578.2,1053.7 1581,1056.4 1583.7,1054.1 1586.4,1053.7 1590.1,1056.4 1592.8,1054.1 1597.4,1053.7 1599.7,1059.2 1602.3,1063.7 1604.6,1057.3 1607.4,1053.7 1610.1,1059.2 1612.5,1064.3 1615,1059.2 1617.4,1057.3 1619.7,1060.1 1621.9,1053.7 1623.7,1051 1625.9,1056.4 1628.3,1051.9 1630.7,1048.2 1633.2,1047.3 1635.6,1051 1637.9,1048.2 1639.2,1041 1641.6,1037.3 1643.4,1028.2 1645.2,1017.3 1647,1010 1648.9,1008.2 1650.7,1017.3 1652.5,1030 1654.7,1041 1656.9,1041.9 1659.2,1044.6 1661.6,1044.6 1663.8,1053.7 1666,1050.1 1668.3,1045.5 1670.2,1048.2 1672,1040.1 1674.3,1037.3 1676.2,1026.4 1678.3,1022.8 1681.1,1020.9 1683.4,1024.6 1685.6,1030 1687.4,1037.3 1689.6,1042.8 1691.5,1047.3 1693.8,1050.1 1695.6,1053.7 1698,1050.1 1699.8,1055.5 1702,1057.3 1705.3,1057 1707.5,1053.7 1709.7,1054.6 1712,1060.6 1715.7,1060.6 1718.4,1054.6 1721.1,1050.1 1723.5,1048.2 1725.7,1052.8 1727.9,1057.3 1730.2,1061 1732.9,1057 1735.7,1056.4 1737.5,1053.7 1739.9,1057 1742.4,1054.6 1744.2,1061 1746.6,1057.3 1756.6,1057 1758.8,1053.7 1763.9,1053.7 1766.6,1057 1772.1,1057 1773.9,1053.7 1776.6,1051 1779.4,1050.4 1781.7,1053.7 1784.3,1051 1786.6,1054.1 1789.4,1057.3 1791.6,1060.6 1794.5,1058.3 1796.7,1060.1 1799.4,1063.7 1801.2,1067.4 1803.6,1063.7 1806.1,1059.2 1808.5,1057.3 1811.2,1057.7 1813.4,1061.4 1815.8,1063.7 1818.5,1061.9 1821.2,1058.3 1824,1061 1826.7,1064.3 1829.4,1061 1831.6,1057.3 1834,1061 1836.7,1063.7 1839.4,1063.7 1842.2,1066.4 1844.9,1066.1 1847.2,1060.6 1850.3,1060.1 1856.7,1060.1 1858.9,1057.7 1861.3,1061.9 1864,1066.4 1866.4,1066.6 1868.3,1061.6 1870.8,1060.9 1873.3,1060.7 1875.2,1058.4 1880,1058.6"/>
<polyline class="curve" transform="translate(0 2)" points="163,930 166.4,931.8 168.2,948.2 170.9,951.8 174.2,950.9 176.4,960.9 178.2,975.5 179.7,984.6 181.5,993.7 184.6,994 188.2,992.8 190.6,996.4 192.8,996.9 194.6,1006.4 196.4,1009.1 198.6,1000.9 201,999.5 203.3,1006.4 205.5,1014.6 208.2,1017.3 210.1,1023.7 212.8,1023.7 215.5,1022.8 218.2,1019.1 221,1022.8 222.8,1023.7 224.1,1033.7 227,1033.3 229.2,1032.8 231.9,1029.2 234.6,1031 238.3,1031.5 240.1,1034.6 242.8,1036.4 245.5,1035.2 249.2,1035.2 251.4,1040.1 253.7,1041.9 256.5,1042.8 259.2,1039.2 261.9,1044.6 264.7,1050.1 267.4,1046.4 270.1,1043.7 272.8,1041 275,1041.4 277.4,1047.4 280.1,1050.1 282.3,1045.5 285.2,1050.1 288.3,1053.7 291,1049.2 292.9,1044.6 295.6,1045 298.3,1048.3 301.1,1049.2 303.8,1052.8 306,1056.5 308.3,1050.1 310.7,1045 313.3,1045.5 316.5,1049.2 319.3,1048.3 322,1049.2 324.7,1045 327.1,1046.1 329.3,1050.1 332.9,1050.1 335.6,1045.5 337.5,1047.4 339.3,1045.5 341.6,1050.5 343.8,1048.3 346,1041.9 348.4,1041 350.7,1044.6 352.6,1047.4 355.1,1041.9 357.5,1037.3 359.3,1030.1 361.7,1027.3 363.8,1025.5 366,1024.6 367.9,1013.7 369.7,999.1 371.1,980.9 372.6,960.9 374.4,937.2 375.9,911.8 376.6,894 377.8,867.9 378.8,830.1 380.1,792.4 380.9,742 382.3,681 382.6,669.2 383.6,632 384.6,611 385.6,602 386.5,597.2 387.5,600 388.6,620.6 389.6,633.2 390.5,670.4 391,742 391.9,779.8 392.9,830.1 393.9,867.9 394.4,889 394.8,906.3 395.9,933.6 397,960.9 398.4,988.2 400.2,1010 402.4,1024.6 404.8,1035.5 407.5,1040.1 410.3,1035.5 412.6,1038.3 414.8,1043.7 417.5,1045.5 419.9,1050.1 422.1,1053.7 424.8,1051.9 428.5,1048.3 432.1,1045.5 434.8,1046.4 454.9,1046.4 457.6,1041 459.9,1039.2 463,1042.8 465.8,1037.3 468,1035.5 470.3,1039.2 472.7,1042.8 475.8,1039.2 478.5,1040.1 481.8,1041.9 484,1033.7 485.8,1029.2 489.4,1029.2 492.2,1035.5 494.9,1031 498.2,1030.1 500,1022.8 502.7,1023.7 505.5,1029.2 508.7,1030.1 511.3,1023.7 514.2,1021.9 516.7,1017.3 520,1015.2 523.3,1015.9 526.4,1020.1 529.1,1024.3 531.9,1024.6 534.2,1026.4 536.4,1022.8 539.1,1023.7 541.5,1020.1 543.7,1018.3 546.4,1021.9 549.1,1023.7 551.9,1027.4 554.2,1027.4 556.8,1022.8 560.1,1023.7 563.7,1023.7 566.4,1022.4 570.1,1022.8 572.8,1018.8 575.5,1023.7 577.9,1028.3 580.1,1030.5 582.8,1021 585.5,1019.2 588.8,1018.8 591,1020.6 593.7,1019.5 596.1,1019.2 597.9,1010.1 601,1011.9 603.7,1017.3 606.5,1017.3 609.2,1015.5 611.9,1021.9 613.8,1024.6 616.5,1019.2 619.2,1015.2 622.3,1018.3 624.7,1020.1 629.2,1018.8 631.4,1024.6 633.8,1027.9 636.5,1026.4 639.2,1019.2 641.6,1023.7 644.7,1017.3 647.4,1014.6 650.2,1011.9 652.5,1005.5 654.7,1010.1 656.9,1019.2 659.3,1024.6 662,1021 664.7,1013.7 666.5,1002.8 668.4,999.1 671.1,1000.1 672.5,1003.7 674.7,995.5 676.2,984.6 678,968.2 679.3,950 680.6,931.8 682,910 683.5,889.9 685.3,879.9 687.1,888.1 688.9,908.1 690.7,931.8 692.6,950 694.4,968.2 696.2,986.4 697.5,991 700.2,990.4 702.4,989.7 703.8,1002.8 705.7,1013.7 708.4,1010.1 711.1,1009.7 714.8,1010.1 717,1005.5 720.2,1006.1 723,1007.3 725.7,1002.8 728.4,1008.2 730.8,1016.4 733.3,1017.3 735.7,1011 738.1,1006.4 740.6,1002.8 743,1007.3 745.3,1016.4 747.9,1017.3 750.8,1009.7 753.4,1010.1 755.7,1017.3 758.1,1024.3 760.3,1017.3 763,1015.2 767.6,1015.5 769.7,1020.1 771.6,1024.6 774.5,1020.1 777.6,1015.5 780.3,1018.3 783,1020.1 786.7,1018.8 789.4,1019.5 792.1,1022.8 795.8,1023.7 798.5,1022.8 801.2,1027.4 804.3,1030.1 806.7,1023.7 809,1018.8 811.6,1023.7 814,1027.4 816.3,1021.9 819.4,1021.9 822.2,1029.2 825.4,1022.8 828.5,1026.4 831.3,1031 834.5,1025.5 837.6,1029.2 839.6,1035.5 840,1036.4 842.2,1030 844.6,1025.5 847.3,1029.1 849.1,1033.7 851.8,1031.5 854.2,1032.8 856.4,1037.3 859.1,1037.3 861.5,1032.2 864,1032.8 866.4,1031.5 869.1,1035.1 871.9,1039.1 874.6,1038.8 877.3,1039.1 879.1,1043.7 881.9,1042.8 883.7,1035.5 886.4,1031 889.1,1028.2 891.3,1031 893.1,1037.3 896.1,1040.1 898.6,1039.1 901,1032.8 903.3,1031 905.9,1034.6 908.3,1035.5 910.6,1039.1 912.8,1043.7 915.5,1043.1 917.4,1036.4 919.7,1029.1 921.9,1033.7 924.1,1040.6 927,1040.6 929.5,1038.2 932.5,1035.1 934.6,1040.1 936.8,1048.2 939.2,1052.8 941.6,1046.4 944.1,1039.1 946.5,1039.5 948.8,1044.6 951.4,1047.3 953.2,1040.1 955.6,1038.2 958.3,1041.9 961,1047.3 963.4,1041 965.6,1033.7 967.8,1029.1 970.1,1029.7 972,1033.7 974.3,1026.4 975.6,1017.3 978,1011.8 979.2,1005.5 982,1004.6 984.7,1002.4 987.1,1008.2 990.2,1010.4 992.5,1012.8 994.3,1020.9 996.5,1024.6 999.3,1026.4 1001.6,1030 1003.8,1035.5 1005.6,1038.2 1008.4,1035.5 1011.1,1037.3 1013.8,1036.4 1016.2,1031.9 1018.4,1031 1021.1,1034.6 1023.8,1037.3 1027.5,1036.4 1030.2,1040.1 1032.9,1040.1 1035.7,1035.5 1038.4,1038.2 1041.1,1040.6 1044.8,1039.1 1047.5,1042.8 1050.2,1036.4 1052.9,1034.6 1055.7,1031 1058.4,1034.6 1060.6,1038.2 1063,1037.3 1064.8,1026.4 1067.1,1020.9 1069,1014.6 1071.5,1012.8 1073.9,1006.4 1075.7,1010 1091.2,1010 1093,1003.7 1095.7,1001.8 1098.5,1002.7 1099.9,1010 1103,1011.8 1105.7,1013.7 1108.5,1016.4 1111.2,1012.8 1113.4,1014.6 1115.7,1020.9 1117.6,1024.6 1120.3,1023.7 1123,1026.4 1125.8,1030 1128.5,1028.6 1131.2,1030 1133.9,1028.6 1137,1030 1139.9,1024.6 1142.1,1021.9 1144.3,1031.9 1146.7,1039.1 1149.4,1041 1152.1,1034.6 1154.9,1031 1157.6,1031 1160.3,1035.5 1163.1,1040.1 1165.8,1038.2 1167.6,1036.4 1170.3,1040.1 1173.1,1035.5 1176.7,1035.1 1178.9,1041 1180,1042.8 1182.7,1043.7 1185.5,1047.3 1188.2,1043.7 1190.9,1040.1 1193.7,1038.2 1196.4,1042.8 1199.1,1046.4 1202.8,1046.1 1206.4,1050.1 1209.1,1046.4 1212.8,1046.8 1215.5,1045.5 1218.2,1047.3 1221,1050.1 1223.3,1042.8 1225.5,1038.2 1227.7,1043.7 1230.1,1048.2 1232.4,1050.1 1235,1046.1 1237.9,1045.5 1239.2,1041.9 1241.9,1047.3 1244.6,1043.7 1247,1041 1250.1,1042.8 1252.8,1038.8 1258.3,1038.2 1261.9,1040.6 1265.5,1039.1 1268.3,1035.5 1269.5,1031 1271.9,1037.3 1274.6,1039.1 1277.4,1035.5 1280.1,1040.1 1282.8,1036.4 1286.5,1031.5 1288.8,1036.4 1291.9,1035.9 1294.3,1035.1 1296.8,1039.1 1299.2,1043.7 1301.6,1037.3 1303.8,1034.6 1307.4,1035.1 1310.1,1038.2 1312.9,1041 1315.6,1043.7 1317.4,1041 1319.2,1047.3 1322,1046.8 1324.7,1041 1327.1,1038.2 1329.2,1042.8 1331.1,1050.1 1332.9,1053.3 1335.6,1046.4 1338.3,1041.3 1341.1,1041 1343.4,1044.6 1346.5,1045 1349.3,1045.5 1352,1051.9 1354.7,1056.4 1357.5,1053.7 1359.8,1049.2 1363.8,1048.6 1367.5,1050.1 1371.1,1048.6 1374.7,1049.7 1378.4,1048.2 1385.7,1048.2 1388.4,1051 1391.1,1053.7 1394.8,1053.3 1397.5,1050.1 1402,1049.2 1405.7,1050.4 1408.4,1050.4 1410.8,1053.7 1413.3,1049.2 1416.6,1048.2 1419.3,1053.7 1421.7,1056.4 1424.8,1051.5 1427.5,1051.9 1430.3,1055.2 1433,1054.6 1435.7,1051.5 1438.5,1055.5 1441.2,1059.2 1443.5,1060.1 1446.6,1054.6 1450.3,1054.6 1453,1052.8 1456.7,1050.1 1461.2,1048.2 1463.9,1051.5 1466.7,1056.4 1469,1060.1 1472.1,1054.6 1475.8,1051.9 1478.5,1052.8 1482.1,1051.5 1484.9,1052.8 1487.6,1056.4 1490.3,1055.9 1493.1,1053.3 1495.8,1051.9 1498.5,1055.9 1501.2,1054.6 1504,1051 1506.7,1048.6 1509.4,1052.8 1512.2,1056.4 1514.9,1054.6 1518.5,1054.1 1520,1053.7 1522.7,1057.3 1525.1,1061 1527.3,1057.3 1529.5,1051 1531.8,1047.3 1534.6,1050.1 1537.3,1053.7 1539.7,1056.4 1543.7,1056.4 1546.4,1052.8 1548.8,1051 1551.3,1053.7 1554.2,1056.4 1557.3,1055.5 1560,1051.9 1562.8,1050.4 1565.5,1053.7 1568.2,1051 1571,1050.4 1573.7,1053.7 1576.1,1056.4 1578.2,1053.7 1581,1056.4 1583.7,1054.1 1586.4,1053.7 1590.1,1056.4 1592.8,1054.1 1597.4,1053.7 1599.7,1059.2 1602.3,1063.7 1604.6,1057.3 1607.4,1053.7 1610.1,1059.2 1612.5,1064.3 1615,1059.2 1617.4,1057.3 1619.7,1060.1 1621.9,1053.7 1623.7,1051 1625.9,1056.4 1628.3,1051.9 1630.7,1048.2 1633.2,1047.3 1635.6,1051 1637.9,1048.2 1639.2,1041 1641.6,1037.3 1643.4,1028.2 1645.2,1017.3 1647,1010 1648.9,1008.2 1650.7,1017.3 1652.5,1030 1654.7,1041 1656.9,1041.9 1659.2,1044.6 1661.6,1044.6 1663.8,1053.7 1666,1050.1 1668.3,1045.5 1670.2,1048.2 1672,1040.1 1674.3,1037.3 1676.2,1026.4 1678.3,1022.8 1681.1,1020.9 1683.4,1024.6 1685.6,1030 1687.4,1037.3 1689.6,1042.8 1691.5,1047.3 1693.8,1050.1 1695.6,1053.7 1698,1050.1 1699.8,1055.5 1702,1057.3 1705.3,1057 1707.5,1053.7 1709.7,1054.6 1712,1060.6 1715.7,1060.6 1718.4,1054.6 1721.1,1050.1 1723.5,1048.2 1725.7,1052.8 1727.9,1057.3 1730.2,1061 1732.9,1057 1735.7,1056.4 1737.5,1053.7 1739.9,1057 1742.4,1054.6 1744.2,1061 1746.6,1057.3 1756.6,1057 1758.8,1053.7 1763.9,1053.7 1766.6,1057 1772.1,1057 1773.9,1053.7 1776.6,1051 1779.4,1050.4 1781.7,1053.7 1784.3,1051 1786.6,1054.1 1789.4,1057.3 1791.6,1060.6 1794.5,1058.3 1796.7,1060.1 1799.4,1063.7 1801.2,1067.4 1803.6,1063.7 1806.1,1059.2 1808.5,1057.3 1811.2,1057.7 1813.4,1061.4 1815.8,1063.7 1818.5,1061.9 1821.2,1058.3 1824,1061 1826.7,1064.3 1829.4,1061 1831.6,1057.3 1834,1061 1836.7,1063.7 1839.4,1063.7 1842.2,1066.4 1844.9,1066.1 1847.2,1060.6 1850.3,1060.1 1856.7,1060.1 1858.9,1057.7 1861.3,1061.9 1864,1066.4 1866.4,1066.6 1868.3,1061.6 1870.8,1060.9 1873.3,1060.7 1875.2,1058.4 1880,1058.6"/>
</g>
<g stroke="#00ff00" stroke-width="3">
<polyline class="curve" points="163,639.1 165.8,626.4 168.2,617.3 170.6,622.7 172.7,631.8 174.9,640.9 177.3,647.3 180.4,648.2 182.8,654.6 186.4,655.8 190.9,655.8 193.1,663.7 196.4,664.2 199.7,666.4 202.2,671.9 204,679.1 206.4,678.2 208.2,671.9 210.6,669.7 213.1,675.5 215.5,682.8 217.9,688.2 221,686.1 223.7,687.3 226.4,691 229.2,687.3 232.4,686.1 235,690.1 237.4,695.2 242.8,695.5 244.6,699.2 248.3,700.1 251,696.4 253.7,700.1 256.5,701.9 259.7,698.8 262.3,700.1 265.2,704.6 268.3,707.4 271,701.9 273.8,699.2 276.5,700.6 279.8,698.3 282.9,700.1 285.6,702.8 288.3,701.9 291,702.8 293.8,707.4 296.5,708.3 298.7,711 301.1,705.5 304.7,701.9 307.4,705 319.3,705.5 321.1,708.3 325.6,708.3 328.9,711.5 331.5,706.4 334.4,702.8 336.9,705.5 340.2,706.4 342,708.3 344.7,705 347.5,702.8 350.2,703.7 352.9,701 355.7,699.2 358.4,699.5 361.1,697.3 363.8,694.6 366,684.6 368.4,675.5 370.2,664.6 371.7,655.5 371.4,658.9 373.7,626.7 376,597.9 377.9,559.6 379.5,521.2 380.4,482.8 381.8,444.5 383.3,415.7 385.2,394.6 386.6,378.9 388.1,394.6 389.4,425.3 391,473.3 392.5,521.2 393.8,559.6 395.2,597.9 396.3,626.7 397.7,658.9 398.8,670 400.6,684.6 402.4,693.7 404.8,699.2 407.5,704.6 409.7,699.2 412.1,700.1 414.4,705 418.5,705.5 423,706.1 426.1,711 429,705.5 431.6,699.2 434.8,698.8 437.6,699.2 440.3,705 443,701.9 446.7,701.9 448.5,705 451.2,705 453.4,699.2 455.8,695.5 458.1,690.1 460.3,695.2 463,695.5 465.8,699.2 468.5,699.2 471.2,695.9 474,691 476.7,687.3 478.9,686.1 481.8,691.5 484,688.2 486.2,686.4 489.1,691 493.1,691 495.8,682.8 498.2,676.4 500,678.8 503.6,679.1 507.3,678.8 509.5,673.3 511.8,672.8 514.2,675.5 517.3,675.9 519.7,679.1 522.2,675.9 525.5,675.9 528.2,679.1 531.3,678.2 533.7,670.4 536,667.3 538.2,665.5 540.4,672.8 542.8,679.1 544.6,685.5 547.3,684.6 550.1,686.1 552.8,679.5 555.5,678.8 559.2,679.1 561.5,683.7 563.7,675.5 565.9,669.1 568.8,668.6 571,666.4 573.7,668.6 576.4,669.7 578.6,675.1 581,679.1 583.4,678.2 585.2,673.3 589.2,672.8 591.9,675.9 594.3,673.7 596.5,673.3 599.2,679.1 601.9,677 604.7,679.1 607.4,675.1 610.7,669.1 613.2,675.5 616.5,675.9 619.8,679.1 622.3,673.3 625.6,673.3 628.3,679.1 630.7,683.7 632.9,686.4 635.6,681 638,673.7 641.1,672.8 643.8,676.4 646.5,673.7 648.3,666.4 650.7,662.4 653.3,666.4 655.6,673.7 658,679.1 659.3,682.8 661.6,675.5 663.8,669.1 666,662.8 668.4,663.7 670.2,659.5 672,665.5 674.4,658.2 676.2,651.8 677.5,640.9 678.7,626.4 680.2,611.8 681.6,597.2 683.5,582.7 685.3,571.8 687.5,570.9 689.3,582.7 690.7,597.2 692,615.4 693.3,633.6 694.4,648.2 696.2,655.5 698.8,651.5 701.1,652.8 702.9,650 705.3,655.5 707.1,662.8 709.3,657.3 712,655.5 714.8,656.4 717.5,660 720.2,662.8 723,660.9 725.7,668.2 727.9,665.5 730.2,662.8 732.6,667.3 734.8,673.7 737,668.2 739.3,663.1 743,662.8 745.7,666.4 747.9,669.1 750.8,666.4 753,672.8 755.7,669.1 758.5,672.8 761.2,669.1 764.3,669.1 767.2,666 769.4,673.7 771.6,681.9 773.9,686.4 776.3,679.1 778.5,675.5 781.2,672.8 783.9,675.5 786.7,679.1 789,675.9 793,675.9 796.7,679.1 800.3,672.8 803,676.4 805.8,682.8 808,686.4 810.3,680.1 813.1,675.5 815.8,675.5 818.1,679.1 820.3,685.5 823.1,689.2 825.8,686.4 828,682.8 830.3,685.5 834,686.1 836.7,691.9 839.4,686.4 840,687.9 843.3,687.3 845.5,683.7 847.6,685.5 850,679.1 852.4,673.7 854.6,677.3 856.7,682.8 858.6,691.9 860.9,699.1 864,699.1 866.4,693.7 868.2,682.8 870.6,679.1 872.8,682.8 875.5,683.7 878.2,687.3 880.4,691.9 883.3,691.9 885.5,686.4 887.7,685.5 890.1,688.6 892.8,691.9 895.5,689.1 898.2,694.6 901.9,695.1 904.6,692.8 905.9,688.6 908.3,693.7 910.1,698.8 912.8,699.1 914.6,701.9 917.4,698.2 919.2,695.5 921.9,698.8 925.5,699.1 928.3,702.4 931,701.9 933.2,696.4 935.6,693.7 938.3,692.8 941,695.5 944.1,695.9 946.5,701.9 948.8,705.5 951,700.6 953.2,693.7 955,688.6 957.4,692.8 960.1,693.7 962.3,698.2 964.7,699.1 967,695.5 969.6,694.6 971.4,684.6 973.2,677.3 975.6,673.3 978,676.4 979.8,682.8 982.3,683.7 984.7,677.3 987.1,672.8 989.2,668.2 992.5,669.1 994.3,677.3 996.2,684.6 998.3,690 1000.5,691.5 1003.8,693.7 1006.5,696.4 1008.9,699.5 1012.5,699.1 1014.7,695.5 1017.5,695.1 1019.8,692.8 1025.6,692.8 1028.4,696.4 1030.7,699.5 1033.3,698.8 1035.1,692.8 1037.5,695.5 1039.8,699.1 1044.8,699.1 1047.5,694.6 1049.7,691 1051.5,688.6 1053.9,693.7 1056.6,695.9 1059.3,701.9 1061.7,690 1064.2,688.6 1066.6,685.5 1069,687.3 1071.1,682.8 1073.3,677.3 1075.7,674.6 1078.1,670 1080.2,668.2 1083,665.5 1085.7,662.7 1087.9,664.6 1089.7,670 1092.1,673.3 1094.8,672.8 1097.5,676.4 1099.9,672.8 1102.5,673.7 1104.8,679.1 1107.2,676.4 1109.7,678.2 1112.6,675.5 1114.8,680 1117,686.4 1119.4,692.8 1121.7,690 1123.9,685.5 1126.7,684.6 1129,679.5 1131.6,680 1133.9,682.8 1136.3,690 1138.5,694.6 1142.1,695.1 1145.8,694 1148,689.1 1150.3,688.6 1152.7,685.5 1155.2,688.6 1157.6,694.6 1160.3,695.1 1163.1,693.7 1164.9,689.1 1167.6,694.6 1170.3,694 1173.1,694.6 1175.8,692.8 1178.2,696.4 1180,701.3 1183.6,701.9 1186.9,704.6 1189.1,698.2 1191.8,693.3 1194.9,693.3 1197.3,696.4 1200,699.5 1202.2,701.9 1204.6,699.1 1207.3,701.3 1210,700.9 1212.4,701.3 1214.9,696.4 1218.2,695.8 1221,700 1223.7,701.9 1226.4,699.1 1229.1,701.3 1232.8,700.9 1235.5,698.8 1239.2,699.1 1241.9,701.9 1244.6,698.2 1247.3,695.8 1250.1,697.3 1252.8,698.8 1255,701.9 1256.8,704.9 1259.7,700 1262.8,697.3 1265.5,693.7 1268.3,698.2 1270.6,694.6 1273.7,693.3 1276.5,695.1 1281.6,694.6 1284.1,689.7 1287.4,686 1290.1,690 1292.8,694.6 1296.5,694.6 1298.7,692.2 1301,691.8 1303.4,689.1 1305.6,693.7 1308.3,698.2 1312,699.1 1315.6,698.8 1318.3,701.9 1321.1,704.6 1324.7,704.2 1327.1,699.1 1329.6,696.4 1332.5,700 1335.1,701.9 1338,699.1 1341.1,701.9 1343.8,702.8 1346,707.3 1348.4,711.9 1351.1,709.7 1353.8,711.5 1356.5,707.3 1359.3,702.8 1361.6,699.1 1364.2,700 1366.6,707.3 1369.3,711.5 1372,708.2 1375.1,706.4 1377.5,705.5 1379.3,701.9 1383.8,701.9 1387.5,699.5 1391.5,699.1 1393.3,702.8 1395.7,708.2 1402,707.9 1404.8,705.5 1420.2,705.5 1423,707.9 1425.7,705.5 1428.4,704.9 1431.2,702.4 1433.4,707.3 1436.6,707.3 1439.4,704.6 1443,699.1 1445.7,702.8 1448.5,709.1 1451.2,712.2 1453.9,708.2 1456.7,704.2 1459.4,702.4 1462.1,707.3 1464.8,711 1467.9,715.1 1470.3,711.9 1473,706.4 1475.8,701.9 1478.5,702.4 1480.3,709.1 1483,714.6 1486.7,714.6 1488.5,711.5 1496.7,711.5 1499.4,708.6 1507.6,708.6 1510.3,705.5 1514.9,705.5 1517.6,708.6 1520,709.7 1522.7,708.6 1525.5,711.5 1528.2,709.1 1530.9,709.7 1533.7,711.9 1536.4,709.7 1539.1,711.9 1541.8,711.5 1544.6,708.6 1548.2,708.6 1550.9,711.9 1561,711.9 1562.8,708.6 1565.5,705.5 1568.2,706.4 1571,711.5 1573.7,711.9 1576.1,709.1 1578.6,711.5 1581,708.6 1584.6,708.6 1587.3,711.9 1590.1,714.6 1593.7,714.6 1595.5,709.1 1598.3,711.5 1601,708.6 1603.7,709.1 1606.5,711.5 1609.2,712.2 1611.4,714.6 1614.3,710 1616.5,709.1 1619.2,715.1 1621.6,712.8 1624.1,708.6 1628.3,708.6 1630.7,712.2 1633.2,711.9 1635.6,705.5 1637.9,700.9 1640.5,697.3 1642.9,688.2 1645.2,673.6 1647,665.5 1649.2,668.2 1651,677.3 1653.2,688.2 1655.6,699.1 1658,704.6 1660.1,708.2 1663.8,708.2 1666,703.7 1668.3,701.3 1670.7,704.6 1673.3,700.9 1675.6,692.8 1677.4,687.3 1679.8,685.5 1682.4,690 1684.7,693.7 1687.1,699.1 1689.6,701.9 1692,705.5 1694.7,704.6 1697.5,708.2 1699.8,709.1 1702,711.9 1704.7,708.6 1707.5,711 1710.2,711.9 1712.6,714.6 1714.7,709.1 1716.9,708.6 1719.3,712.8 1722,717.7 1725.7,718.2 1728.4,715.1 1731.1,714.6 1733.9,711.5 1745.7,711.5 1747.5,715.1 1750.2,715.5 1752.6,718.2 1755.7,715.1 1758.1,711.5 1760.6,712.2 1763,715.5 1765.3,718.2 1768.4,718.2 1770.8,713.7 1773.4,709.1 1776.6,708.6 1778.5,705.5 1782.1,704.9 1784.3,701.9 1786.6,706.4 1789,712.8 1791.2,715.1 1797.6,715.1 1799.9,712.2 1802.1,715.1 1809.4,715.1 1811.2,718.2 1813.4,715.1 1816.7,717.7 1819.4,715.5 1822.1,717.7 1824.3,712.2 1826.7,712.8 1829,718.2 1834,718.2 1836.7,715.5 1838.9,712.2 1844,711.9 1846.2,715.1 1853.1,715.1 1854.9,718.2 1857.1,715.1 1860.4,718.2 1862.5,715.1 1865.8,715.1 1867,714.8 1869.3,711.7 1871.4,714.8 1873.3,718 1880,718.4"/>
<polyline class="curve" transform="translate(0 2)" points="163,639.1 165.8,626.4 168.2,617.3 170.6,622.7 172.7,631.8 174.9,640.9 177.3,647.3 180.4,648.2 182.8,654.6 186.4,655.8 190.9,655.8 193.1,663.7 196.4,664.2 199.7,666.4 202.2,671.9 204,679.1 206.4,678.2 208.2,671.9 210.6,669.7 213.1,675.5 215.5,682.8 217.9,688.2 221,686.1 223.7,687.3 226.4,691 229.2,687.3 232.4,686.1 235,690.1 237.4,695.2 242.8,695.5 244.6,699.2 248.3,700.1 251,696.4 253.7,700.1 256.5,701.9 259.7,698.8 262.3,700.1 265.2,704.6 268.3,707.4 271,701.9 273.8,699.2 276.5,700.6 279.8,698.3 282.9,700.1 285.6,702.8 288.3,701.9 291,702.8 293.8,707.4 296.5,708.3 298.7,711 301.1,705.5 304.7,701.9 307.4,705 319.3,705.5 321.1,708.3 325.6,708.3 328.9,711.5 331.5,706.4 334.4,702.8 336.9,705.5 340.2,706.4 342,708.3 344.7,705 347.5,702.8 350.2,703.7 352.9,701 355.7,699.2 358.4,699.5 361.1,697.3 363.8,694.6 366,684.6 368.4,675.5 370.2,664.6 371.7,655.5 371.4,658.9 373.7,626.7 376,597.9 377.9,559.6 379.5,521.2 380.4,482.8 381.8,444.5 383.3,415.7 385.2,394.6 386.6,378.9 388.1,394.6 389.4,425.3 391,473.3 392.5,521.2 393.8,559.6 395.2,597.9 396.3,626.7 397.7,658.9 398.8,670 400.6,684.6 402.4,693.7 404.8,699.2 407.5,704.6 409.7,699.2 412.1,700.1 414.4,705 418.5,705.5 423,706.1 426.1,711 429,705.5 431.6,699.2 434.8,698.8 437.6,699.2 440.3,705 443,701.9 446.7,701.9 448.5,705 451.2,705 453.4,699.2 455.8,695.5 458.1,690.1 460.3,695.2 463,695.5 465.8,699.2 468.5,699.2 471.2,695.9 474,691 476.7,687.3 478.9,686.1 481.8,691.5 484,688.2 486.2,686.4 489.1,691 493.1,691 495.8,682.8 498.2,676.4 500,678.8 503.6,679.1 507.3,678.8 509.5,673.3 511.8,672.8 514.2,675.5 517.3,675.9 519.7,679.1 522.2,675.9 525.5,675.9 528.2,679.1 531.3,678.2 533.7,670.4 536,667.3 538.2,665.5 540.4,672.8 542.8,679.1 544.6,685.5 547.3,684.6 550.1,686.1 552.8,679.5 555.5,678.8 559.2,679.1 561.5,683.7 563.7,675.5 565.9,669.1 568.8,668.6 571,666.4 573.7,668.6 576.4,669.7 578.6,675.1 581,679.1 583.4,678.2 585.2,673.3 589.2,672.8 591.9,675.9 594.3,673.7 596.5,673.3 599.2,679.1 601.9,677 604.7,679.1 607.4,675.1 610.7,669.1 613.2,675.5 616.5,675.9 619.8,679.1 622.3,673.3 625.6,673.3 628.3,679.1 630.7,683.7 632.9,686.4 635.6,681 638,673.7 641.1,672.8 643.8,676.4 646.5,673.7 648.3,666.4 650.7,662.4 653.3,666.4 655.6,673.7 658,679.1 659.3,682.8 661.6,675.5 663.8,669.1 666,662.8 668.4,663.7 670.2,659.5 672,665.5 674.4,658.2 676.2,651.8 677.5,640.9 678.7,626.4 680.2,611.8 681.6,597.2 683.5,582.7 685.3,571.8 687.5,570.9 689.3,582.7 690.7,597.2 692,615.4 693.3,633.6 694.4,648.2 696.2,655.5 698.8,651.5 701.1,652.8 702.9,650 705.3,655.5 707.1,662.8 709.3,657.3 712,655.5 714.8,656.4 717.5,660 720.2,662.8 723,660.9 725.7,668.2 727.9,665.5 730.2,662.8 732.6,667.3 734.8,673.7 737,668.2 739.3,663.1 743,662.8 745.7,666.4 747.9,669.1 750.8,666.4 753,672.8 755.7,669.1 758.5,672.8 761.2,669.1 764.3,669.1 767.2,666 769.4,673.7 771.6,681.9 773.9,686.4 776.3,679.1 778.5,675.5 781.2,672.8 783.9,675.5 786.7,679.1 789,675.9 793,675.9 796.7,679.1 800.3,672.8 803,676.4 805.8,682.8 808,686.4 810.3,680.1 813.1,675.5 815.8,675.5 818.1,679.1 820.3,685.5 823.1,689.2 825.8,686.4 828,682.8 830.3,685.5 834,686.1 836.7,691.9 839.4,686.4 840,687.9 843.3,687.3 845.5,683.7 847.6,685.5 850,679.1 852.4,673.7 854.6,677.3 856.7,682.8 858.6,691.9 860.9,699.1 864,699.1 866.4,693.7 868.2,682.8 870.6,679.1 872.8,682.8 875.5,683.7 878.2,687.3 880.4,691.9 883.3,691.9 885.5,686.4 887.7,685.5 890.1,688.6 892.8,691.9 895.5,689.1 898.2,694.6 901.9,695.1 904.6,692.8 905.9,688.6 908.3,693.7 910.1,698.8 912.8,699.1 914.6,701.9 917.4,698.2 919.2,695.5 921.9,698.8 925.5,699.1 928.3,702.4 931,701.9 933.2,696.4 935.6,693.7 938.3,692.8 941,695.5 944.1,695.9 946.5,701.9 948.8,705.5 951,700.6 953.2,693.7 955,688.6 957.4,692.8 960.1,693.7 962.3,698.2 964.7,699.1 967,695.5 969.6,694.6 971.4,684.6 973.2,677.3 975.6,673.3 978,676.4 979.8,682.8 982.3,683.7 984.7,677.3 987.1,672.8 989.2,668.2 992.5,669.1 994.3,677.3 996.2,684.6 998.3,690 1000.5,691.5 1003.8,693.7 1006.5,696.4 1008.9,699.5 1012.5,699.1 1014.7,695.5 1017.5,695.1 1019.8,692.8 1025.6,692.8 1028.4,696.4 1030.7,699.5 1033.3,698.8 1035.1,692.8 1037.5,695.5 1039.8,699.1 1044.8,699.1 1047.5,694.6 1049.7,691 1051.5,688.6 1053.9,693.7 1056.6,695.9 1059.3,701.9 1061.7,690 1064.2,688.6 1066.6,685.5 1069,687.3 1071.1,682.8 1073.3,677.3 1075.7,674.6 1078.1,670 1080.2,668.2 1083,665.5 1085.7,662.7 1087.9,664.6 1089.7,670 1092.1,673.3 1094.8,672.8 1097.5,676.4 1099.9,672.8 1102.5,673.7 1104.8,679.1 1107.2,676.4 1109.7,678.2 1112.6,675.5 1114.8,680 1117,686.4 1119.4,692.8 1121.7,690 1123.9,685.5 1126.7,684.6 1129,679.5 1131.6,680 1133.9,682.8 1136.3,690 1138.5,694.6 1142.1,695.1 1145.8,694 1148,689.1 1150.3,688.6 1152.7,685.5 1155.2,688.6 1157.6,694.6 1160.3,695.1 1163.1,693.7 1164.9,689.1 1167.6,694.6 1170.3,694 1173.1,694.6 1175.8,692.8 1178.2,696.4 1180,701.3 1183.6,701.9 1186.9,704.6 1189.1,698.2 1191.8,693.3 1194.9,693.3 1197.3,696.4 1200,699.5 1202.2,701.9 1204.6,699.1 1207.3,701.3 1210,700.9 1212.4,701.3 1214.9,696.4 1218.2,695.8 1221,700 1223.7,701.9 1226.4,699.1 1229.1,701.3 1232.8,700.9 1235.5,698.8 1239.2,699.1 1241.9,701.9 1244.6,698.2 1247.3,695.8 1250.1,697.3 1252.8,698.8 1255,701.9 1256.8,704.9 1259.7,700 1262.8,697.3 1265.5,693.7 1268.3,698.2 1270.6,694.6 1273.7,693.3 1276.5,695.1 1281.6,694.6 1284.1,689.7 1287.4,686 1290.1,690 1292.8,694.6 1296.5,694.6 1298.7,692.2 1301,691.8 1303.4,689.1 1305.6,693.7 1308.3,698.2 1312,699.1 1315.6,698.8 1318.3,701.9 1321.1,704.6 1324.7,704.2 1327.1,699.1 1329.6,696.4 1332.5,700 1335.1,701.9 1338,699.1 1341.1,701.9 1343.8,702.8 1346,707.3 1348.4,711.9 1351.1,709.7 1353.8,711.5 1356.5,707.3 1359.3,702.8 1361.6,699.1 1364.2,700 1366.6,707.3 1369.3,711.5 1372,708.2 1375.1,706.4 1377.5,705.5 1379.3,701.9 1383.8,701.9 1387.5,699.5 1391.5,699.1 1393.3,702.8 1395.7,708.2 1402,707.9 1404.8,705.5 1420.2,705.5 1423,707.9 1425.7,705.5 1428.4,704.9 1431.2,702.4 1433.4,707.3 1436.6,707.3 1439.4,704.6 1443,699.1 1445.7,702.8 1448.5,709.1 1451.2,712.2 1453.9,708.2 1456.7,704.2 1459.4,702.4 1462.1,707.3 1464.8,711 1467.9,715.1 1470.3,711.9 1473,706.4 1475.8,701.9 1478.5,702.4 1480.3,709.1 1483,714.6 1486.7,714.6 1488.5,711.5 1496.7,711.5 1499.4,708.6 1507.6,708.6 1510.3,705.5 1514.9,705.5 1517.6,708.6 1520,709.7 1522.7,708.6 1525.5,711.5 1528.2,709.1 1530.9,709.7 1533.7,711.9 1536.4,709.7 1539.1,711.9 1541.8,711.5 1544.6,708.6 1548.2,708.6 1550.9,711.9 1561,711.9 1562.8,708.6 1565.5,705.5 1568.2,706.4 1571,711.5 1573.7,711.9 1576.1,709.1 1578.6,711.5 1581,708.6 1584.6,708.6 1587.3,711.9 1590.1,714.6 1593.7,714.6 1595.5,709.1 1598.3,711.5 1601,708.6 1603.7,709.1 1606.5,711.5 1609.2,712.2 1611.4,714.6 1614.3,710 1616.5,709.1 1619.2,715.1 1621.6,712.8 1624.1,708.6 1628.3,708.6 1630.7,712.2 1633.2,711.9 1635.6,705.5 1637.9,700.9 1640.5,697.3 1642.9,688.2 1645.2,673.6 1647,665.5 1649.2,668.2 1651,677.3 1653.2,688.2 1655.6,699.1 1658,704.6 1660.1,708.2 1663.8,708.2 1666,703.7 1668.3,701.3 1670.7,704.6 1673.3,700.9 1675.6,692.8 1677.4,687.3 1679.8,685.5 1682.4,690 1684.7,693.7 1687.1,699.1 1689.6,701.9 1692,705.5 1694.7,704.6 1697.5,708.2 1699.8,709.1 1702,711.9 1704.7,708.6 1707.5,711 1710.2,711.9 1712.6,714.6 1714.7,709.1 1716.9,708.6 1719.3,712.8 1722,717.7 1725.7,718.2 1728.4,715.1 1731.1,714.6 1733.9,711.5 1745.7,711.5 1747.5,715.1 1750.2,715.5 1752.6,718.2 1755.7,715.1 1758.1,711.5 1760.6,712.2 1763,715.5 1765.3,718.2 1768.4,718.2 1770.8,713.7 1773.4,709.1 1776.6,708.6 1778.5,705.5 1782.1,704.9 1784.3,701.9 1786.6,706.4 1789,712.8 1791.2,715.1 1797.6,715.1 1799.9,712.2 1802.1,715.1 1809.4,715.1 1811.2,718.2 1813.4,715.1 1816.7,717.7 1819.4,715.5 1822.1,717.7 1824.3,712.2 1826.7,712.8 1829,718.2 1834,718.2 1836.7,715.5 1838.9,712.2 1844,711.9 1846.2,715.1 1853.1,715.1 1854.9,718.2 1857.1,715.1 1860.4,718.2 1862.5,715.1 1865.8,715.1 1867,714.8 1869.3,711.7 1871.4,714.8 1873.3,718 1880,718.4"/>
</g>
<g stroke="#0000ff" stroke-width="3">
<polyline class="curve" points="163,391.8 165.8,387.3 168.7,387.3 170.6,391.8 172.4,399.1 175.5,400.9 178.2,404.6 180.4,411 184.6,410.4 188.2,410 190,418.2 192.4,413.7 196.4,413.7 198.2,424.6 199.7,431 201.9,423.7 204,423.7 205.9,431.9 207.7,436.4 210.1,441 212.4,446.4 214.2,451 216.8,446.4 219.2,442.8 221.9,441 224.6,433.7 227,429.7 228.8,439.2 231,447.4 233.7,447.4 236.1,451 237.9,454.6 240.4,450.1 243.7,450.5 247,451 249.2,449.7 251.4,446.4 253.2,451 256.5,453.7 261,453.7 263.4,450.1 267.4,450.1 270.1,451.5 273.8,450.1 279.2,450.1 281.6,452.8 284.1,454.6 286.5,461 289.2,457 292,455.5 294.7,461.9 297.4,456.5 300.1,459.2 303.8,458.8 306.5,453.4 309.2,454.1 312,458.3 314.7,452.8 317.4,458.3 320.2,457 322.9,455.9 325.3,461 328.4,461.9 331.1,456.5 334.4,452.8 338,452.8 340.2,459.2 342.4,464.6 345.3,464.6 347.8,461 350.7,453.4 353.8,454.6 356.6,452.8 359.3,453.4 361.7,444.6 363.8,439.2 366,431.9 368.4,428.2 369.7,424.6 370.2,427.1 372.2,407.9 374.1,388.7 376,360 377.9,331.2 379.8,302.4 381.2,264.1 381.6,249 382.5,233.7 383.5,215.2 384.5,191.7 385.6,178.2 386.3,172.6 387.5,193.6 388.6,214.6 389.6,236.1 390.4,259 391.3,302.4 392.5,331.2 393.8,360 395.2,388.7 396.3,407.9 397.7,427.1 399.6,446.3 402.4,451.9 404.8,455.2 407.2,451 410.3,450.1 412.6,455.5 415.7,459.2 418.5,455.5 421.2,452.8 423.9,453.7 426.1,458.3 429,454.6 433,454.1 435.2,446.4 438.5,445.5 441.2,446.4 443.6,451 446.7,454.6 450.3,454.6 453,451 455.8,450.1 458.1,442.8 460.3,440.1 464,440.6 467.6,441.4 470.3,440.1 474,439.5 477.6,441 481.2,441 484.9,438.3 488.5,437.3 491.6,435.5 493.4,421 495.8,417 497.6,426.4 499.4,441.9 500,441 502.2,433.7 504.6,426.8 507.3,431 510,435.5 512.4,434.6 514.6,428.2 516.7,422.8 519.1,425.5 521.5,418.2 524.6,416.4 526.9,424.6 530,425.5 532.8,422.8 535.5,426.4 537.3,435.5 540,435.5 542.8,427.3 545.5,427.3 547.7,414.6 550.6,413.3 552.8,421 555.5,417.7 557.9,421 560.4,417 563.3,419.1 565.5,426.4 567.7,431.9 570.1,433.7 571.3,439.2 573.7,426.4 576.1,420.1 578.6,422.8 581,430.1 583.4,431.9 585.9,428.2 588.3,420.1 591,420.6 593.7,424.6 596.1,429.2 598.3,431.9 601,427.3 603.4,422.8 607.4,421.9 609.6,416.4 612.5,417 615,421.9 617.4,427.9 620.1,428.6 623.4,427.9 625.9,422.8 628.3,416.4 630.7,424.6 632.9,435.5 636.1,435.9 638.3,426.4 641.1,420.1 643.8,416.4 646.5,417.3 649.2,421 652.9,421.3 655.1,423.7 656.5,429.2 658.7,421 661.1,420.1 663.4,422.8 665.6,426.4 667.4,425.5 669.3,413.7 671.5,404.6 673.3,408.6 675.6,404.6 676.9,391.8 678.4,373.6 680.2,355.4 681.6,337.2 683.5,326.3 685.3,320.5 687.1,330 688.9,351.8 690.7,373.6 692.6,391.8 695.1,400.9 697.5,409.1 699.8,411.9 702.4,411 704.2,406.4 706.6,414.6 709.3,419.1 711.5,411.9 713.9,409.7 716.2,415.1 718.8,412.8 721.1,413.7 723,421.9 725.7,421.9 727.9,416.4 730.2,415.5 732.1,406.4 734.4,400 736.6,404.6 738.4,417.3 740.6,424.6 743,425.5 745.3,417.3 747.5,412.8 750.3,421 752.6,426.1 755.2,423.7 757,429.2 759.4,424.6 761.7,417 764.3,417 766.6,426.1 769,428.2 771.2,420.1 773.9,421 776.3,426.4 778.8,429.2 781.2,435.5 783.6,435.5 785.8,427.3 788.5,425.5 790.8,420.1 793.4,420.1 795.8,426.4 797,436.4 799.4,426.4 802.1,431 804.9,429.7 807.6,431 810.9,439.2 813.1,430.1 816.7,429.7 819.4,430.4 822.2,434.6 824.3,439.2 827.2,435.5 829.8,429.2 831.6,423.7 834,430.1 835.8,441.9 838.5,441 840,440.1 843.3,434.6 845.8,438.2 849.1,438.2 852.7,437.7 856.7,438.2 858.6,442.8 860.9,445.5 863.3,434.6 865.5,429.7 868.2,430 869.5,439.1 871.9,444.6 874.2,449.2 877.3,447.3 879.7,443.7 882.8,444.6 885.5,439.5 887.7,442.8 889.5,451.9 891.9,448.2 894.2,442.8 896.8,444.6 898.6,451.5 901.9,451.5 903.7,444.6 906.4,442.8 908.8,444.6 911,442.8 913.2,448.2 916.1,446.1 918.6,448.6 921.5,448.2 924.1,446.1 927,440.1 930.1,440.1 932.5,448.2 934.6,452.3 936.8,444.6 938.6,437.3 940.5,444.6 942.3,451.9 944.7,450.1 947,442.8 949.2,448.2 951.4,452.3 953.8,445.5 956.1,439.5 959.2,440.1 961.6,449.2 964.1,444.6 966.5,437.7 968.9,433.7 971,439.1 973.8,441.9 975.6,433.7 978,426.4 980.5,430 982.9,435.5 985.2,427.3 987.8,427.3 990.2,431 995.6,431 997.4,439.1 999.8,444.6 1002.9,445.5 1005.3,450.1 1007.4,452.8 1010.2,451 1012,445.5 1014.7,446.1 1016.9,449.2 1019.3,443.7 1022,444.6 1024.7,442.8 1027.1,446.1 1029.3,450.1 1032,452.3 1033.8,446.1 1036.2,451 1038.4,452.3 1040.6,446.1 1043.8,446.1 1046,449.2 1048.4,451.9 1050.8,445.5 1052.9,441.9 1055.1,437 1057.5,444.6 1060.2,440.1 1063,440.6 1065.7,438.2 1067.9,434.6 1069.7,429.1 1073,429.1 1075.7,428.2 1077.5,420.6 1080.2,422.8 1083,426.4 1084.8,418.2 1087.5,412.8 1089.7,415.5 1092.1,425.5 1094.4,424.6 1096.6,417.3 1098.8,422.8 1101.2,431 1103.5,429.1 1106.6,427.3 1108.5,435.5 1110.8,441.9 1113,437.3 1115.2,433.7 1117.6,438.2 1120.3,435.5 1123,432.8 1125.8,434.6 1128.5,438.2 1131.2,444.6 1133.4,440.1 1135.8,436.4 1138.5,444.6 1141.2,437.3 1143.6,438.2 1145.8,444.6 1148.5,448.2 1150.9,451 1153.4,447.3 1156.3,443.7 1158.9,443.7 1161.2,448.2 1163.6,443.7 1166.7,443.1 1169.1,444.6 1170.3,451.9 1174,451.5 1176.3,444.6 1178.9,443.7 1180,445.5 1182.2,452.8 1185.1,454.6 1187.6,448.2 1190.6,446 1193.1,447.3 1195.5,446 1197.8,450.4 1200.9,449.7 1203.7,450.4 1205.5,459.1 1208.2,452.8 1210.6,446.4 1212.8,445.5 1214.9,451 1217.9,454.6 1220.4,453.3 1222.8,458.8 1225.1,453.3 1227.7,453.7 1230.6,459.1 1233.1,454.6 1236.1,454 1238.6,450 1241.9,450.4 1244.1,454.6 1246.4,458.8 1250.1,458.8 1252.4,450 1255,443.7 1259.2,442.8 1261.5,450 1264.1,458.8 1267,453.7 1269.5,443.7 1271.9,443.1 1274.3,451.9 1276.5,442.8 1279.2,439.5 1281.9,440.9 1283.7,449.1 1285.9,455.5 1288.8,450 1291.4,446.4 1293.8,448.6 1296.1,443.1 1298.3,448.6 1300.1,457.3 1302.3,465.5 1304.7,459.1 1307,451 1309.6,450 1312,454.6 1314.7,453.3 1317.4,454 1320.1,459.5 1322.9,451.9 1325.6,450 1328.3,451.9 1331.1,445.5 1333.3,453.7 1335.6,462.8 1338,455.5 1340.2,449.7 1342.4,454.6 1344.7,459.1 1347.1,453.3 1350.2,454.6 1352.5,462.8 1355.1,459.1 1357.5,455.9 1360.2,459.5 1362.9,455.5 1365.3,452.8 1367.8,457 1370.7,462.8 1373.3,458.2 1375.7,455.9 1378.8,455.5 1381.7,461.9 1384.2,462.8 1386.6,459.1 1389.3,460.1 1392,455.5 1394.4,459.5 1396.6,462.8 1399.3,460.6 1402,461.9 1404.8,459.5 1407.1,459.1 1409.7,454.6 1412.6,452.8 1414.8,454.6 1417.5,459.5 1420.2,455.5 1423,452.8 1428.4,453.3 1431.2,455.5 1433.4,462.8 1435.7,465.5 1438.5,459.5 1440.6,464.6 1443,459.5 1446.6,460.1 1449.4,464.6 1452.1,469.7 1454.8,463.7 1457.6,464.2 1461.2,462.8 1463.9,459.1 1466.7,455.5 1469,462.8 1471.2,469.2 1473.4,462.8 1475.8,455.5 1478.1,462.8 1480.7,469.7 1483,466.4 1485.8,462.8 1488.5,459.5 1491.2,460.6 1493.4,464.6 1495.8,469.2 1498.1,462.8 1501.2,460.6 1504,459.5 1506.7,462.8 1510.3,463.1 1513.1,465.5 1515.8,462.8 1517.6,459.5 1520,464.9 1522.7,461.9 1525.5,455.8 1528.7,456.4 1530.6,462.8 1532.4,468.6 1534.6,462.8 1536.7,456.4 1539.7,456.4 1541.8,464.6 1544.6,462.8 1547.3,465.5 1550,464.2 1552.8,464.9 1555.5,461.9 1557.9,460 1560.4,464.6 1563.7,463.7 1566.4,465.5 1571,464.9 1573.7,461.9 1576.4,462.4 1578.6,459.5 1581,462.8 1582.8,468.6 1585.5,469.1 1587.7,464.9 1590.6,462.8 1593.2,459.5 1596.1,462.8 1598.6,464.9 1601.5,462.8 1603.7,466.4 1606.5,469.1 1609.2,468.6 1611,464.9 1615.6,464.9 1618.3,462.4 1620.5,466.4 1622.8,469.1 1625.2,465.5 1628.3,464.9 1630.7,462.4 1633.8,462.8 1636.1,465.5 1637.9,457.3 1639.8,446.4 1641.6,440 1644.7,440 1646.5,436.9 1652,437.3 1653.2,446.4 1655.6,455.5 1657.4,462.4 1659.8,456.4 1662.3,455.8 1664.7,459.1 1667.1,457.3 1669.2,451.8 1672,446.4 1673.3,442.7 1675.6,446.4 1678,448.2 1680.2,443.1 1683.8,443.1 1686,446.4 1688.4,452.8 1691.5,454.6 1693.3,462.8 1695.1,468.6 1698,468.2 1700.2,464.9 1702.9,464.6 1705.3,462.4 1707.5,466.4 1710.2,472.2 1712.6,471.5 1714.7,465.5 1717.5,462.8 1719.8,465.5 1722.4,468.6 1724.8,465.5 1727.5,466 1730.2,472.2 1732.9,469.1 1735.7,465.5 1738.4,462.8 1741.1,463.7 1743,471.9 1745.7,471.5 1748.4,466.4 1751.1,465.5 1753.3,468.6 1755.7,462.8 1758.1,463.1 1760.2,468.6 1762.4,472.2 1764.8,465.5 1766.6,462.8 1769,468.6 1771.2,471.9 1773.4,465.5 1775.7,460 1778.1,460.6 1780.3,465.5 1781.7,468.6 1783.9,464.9 1787.2,464.9 1789.4,462.8 1791.6,465.5 1793.9,468.6 1796.7,466.4 1799.4,468.6 1803,469.1 1804.8,472.2 1807.6,466.4 1810.3,462.8 1812.7,465.5 1814.5,468.6 1817,472.2 1821.2,471.9 1823,466 1826.7,465.5 1828.5,468.6 1831.2,468.6 1834,465.5 1836.7,466.4 1839.4,469.1 1841.8,472.2 1845.8,471.9 1847.6,469.1 1856.7,469.1 1858.9,465.5 1861.3,469.1 1864,472.8 1865.8,471.7 1867.7,468.5 1870.2,466 1872.1,468.5 1875.2,468.2 1877.1,466 1880,466"/>
<polyline class="curve" transform="translate(0 2)" points="163,391.8 165.8,387.3 168.7,387.3 170.6,391.8 172.4,399.1 175.5,400.9 178.2,404.6 180.4,411 184.6,410.4 188.2,410 190,418.2 192.4,413.7 196.4,413.7 198.2,424.6 199.7,431 201.9,423.7 204,423.7 205.9,431.9 207.7,436.4 210.1,441 212.4,446.4 214.2,451 216.8,446.4 219.2,442.8 221.9,441 224.6,433.7 227,429.7 228.8,439.2 231,447.4 233.7,447.4 236.1,451 237.9,454.6 240.4,450.1 243.7,450.5 247,451 249.2,449.7 251.4,446.4 253.2,451 256.5,453.7 261,453.7 263.4,450.1 267.4,450.1 270.1,451.5 273.8,450.1 279.2,450.1 281.6,452.8 284.1,454.6 286.5,461 289.2,457 292,455.5 294.7,461.9 297.4,456.5 300.1,459.2 303.8,458.8 306.5,453.4 309.2,454.1 312,458.3 314.7,452.8 317.4,458.3 320.2,457 322.9,455.9 325.3,461 328.4,461.9 331.1,456.5 334.4,452.8 338,452.8 340.2,459.2 342.4,464.6 345.3,464.6 347.8,461 350.7,453.4 353.8,454.6 356.6,452.8 359.3,453.4 361.7,444.6 363.8,439.2 366,431.9 368.4,428.2 369.7,424.6 370.2,427.1 372.2,407.9 374.1,388.7 376,360 377.9,331.2 379.8,302.4 381.2,264.1 381.6,249 382.5,233.7 383.5,215.2 384.5,191.7 385.6,178.2 386.3,172.6 387.5,193.6 388.6,214.6 389.6,236.1 390.4,259 391.3,302.4 392.5,331.2 393.8,360 395.2,388.7 396.3,407.9 397.7,427.1 399.6,446.3 402.4,451.9 404.8,455.2 407.2,451 410.3,450.1 412.6,455.5 415.7,459.2 418.5,455.5 421.2,452.8 423.9,453.7 426.1,458.3 429,454.6 433,454.1 435.2,446.4 438.5,445.5 441.2,446.4 443.6,451 446.7,454.6 450.3,454.6 453,451 455.8,450.1 458.1,442.8 460.3,440.1 464,440.6 467.6,441.4 470.3,440.1 474,439.5 477.6,441 481.2,441 484.9,438.3 488.5,437.3 491.6,435.5 493.4,421 495.8,417 497.6,426.4 499.4,441.9 500,441 502.2,433.7 504.6,426.8 507.3,431 510,435.5 512.4,434.6 514.6,428.2 516.7,422.8 519.1,425.5 521.5,418.2 524.6,416.4 526.9,424.6 530,425.5 532.8,422.8 535.5,426.4 537.3,435.5 540,435.5 542.8,427.3 545.5,427.3 547.7,414.6 550.6,413.3 552.8,421 555.5,417.7 557.9,421 560.4,417 563.3,419.1 565.5,426.4 567.7,431.9 570.1,433.7 571.3,439.2 573.7,426.4 576.1,420.1 578.6,422.8 581,430.1 583.4,431.9 585.9,428.2 588.3,420.1 591,420.6 593.7,424.6 596.1,429.2 598.3,431.9 601,427.3 603.4,422.8 607.4,421.9 609.6,416.4 612.5,417 615,421.9 617.4,427.9 620.1,428.6 623.4,427.9 625.9,422.8 628.3,416.4 630.7,424.6 632.9,435.5 636.1,435.9 638.3,426.4 641.1,420.1 643.8,416.4 646.5,417.3 649.2,421 652.9,421.3 655.1,423.7 656.5,429.2 658.7,421 661.1,420.1 663.4,422.8 665.6,426.4 667.4,425.5 669.3,413.7 671.5,404.6 673.3,408.6 675.6,404.6 676.9,391.8 678.4,373.6 680.2,355.4 681.6,337.2 683.5,326.3 685.3,320.5 687.1,330 688.9,351.8 690.7,373.6 692.6,391.8 695.1,400.9 697.5,409.1 699.8,411.9 702.4,411 704.2,406.4 706.6,414.6 709.3,419.1 711.5,411.9 713.9,409.7 716.2,415.1 718.8,412.8 721.1,413.7 723,421.9 725.7,421.9 727.9,416.4 730.2,415.5 732.1,406.4 734.4,400 736.6,404.6 738.4,417.3 740.6,424.6 743,425.5 745.3,417.3 747.5,412.8 750.3,421 752.6,426.1 755.2,423.7 757,429.2 759.4,424.6 761.7,417 764.3,417 766.6,426.1 769,428.2 771.2,420.1 773.9,421 776.3,426.4 778.8,429.2 781.2,435.5 783.6,435.5 785.8,427.3 788.5,425.5 790.8,420.1 793.4,420.1 795.8,426.4 797,436.4 799.4,426.4 802.1,431 804.9,429.7 807.6,431 810.9,439.2 813.1,430.1 816.7,429.7 819.4,430.4 822.2,434.6 824.3,439.2 827.2,435.5 829.8,429.2 831.6,423.7 834,430.1 835.8,441.9 838.5,441 840,440.1 843.3,434.6 845.8,438.2 849.1,438.2 852.7,437.7 856.7,438.2 858.6,442.8 860.9,445.5 863.3,434.6 865.5,429.7 868.2,430 869.5,439.1 871.9,444.6 874.2,449.2 877.3,447.3 879.7,443.7 882.8,444.6 885.5,439.5 887.7,442.8 889.5,451.9 891.9,448.2 894.2,442.8 896.8,444.6 898.6,451.5 901.9,451.5 903.7,444.6 906.4,442.8 908.8,444.6 911,442.8 913.2,448.2 916.1,446.1 918.6,448.6 921.5,448.2 924.1,446.1 927,440.1 930.1,440.1 932.5,448.2 934.6,452.3 936.8,444.6 938.6,437.3 940.5,444.6 942.3,451.9 944.7,450.1 947,442.8 949.2,448.2 951.4,452.3 953.8,445.5 956.1,439.5 959.2,440.1 961.6,449.2 964.1,444.6 966.5,437.7 968.9,433.7 971,439.1 973.8,441.9 975.6,433.7 978,426.4 980.5,430 982.9,435.5 985.2,427.3 987.8,427.3 990.2,431 995.6,431 997.4,439.1 999.8,444.6 1002.9,445.5 1005.3,450.1 1007.4,452.8 1010.2,451 1012,445.5 1014.7,446.1 1016.9,449.2 1019.3,443.7 1022,444.6 1024.7,442.8 1027.1,446.1 1029.3,450.1 1032,452.3 1033.8,446.1 1036.2,451 1038.4,452.3 1040.6,446.1 1043.8,446.1 1046,449.2 1048.4,451.9 1050.8,445.5 1052.9,441.9 1055.1,437 1057.5,444.6 1060.2,440.1 1063,440.6 1065.7,438.2 1067.9,434.6 1069.7,429.1 1073,429.1 1075.7,428.2 1077.5,420.6 1080.2,422.8 1083,426.4 1084.8,418.2 1087.5,412.8 1089.7,415.5 1092.1,425.5 1094.4,424.6 1096.6,417.3 1098.8,422.8 1101.2,431 1103.5,429.1 1106.6,427.3 1108.5,435.5 1110.8,441.9 1113,437.3 1115.2,433.7 1117.6,438.2 1120.3,435.5 1123,432.8 1125.8,434.6 1128.5,438.2 1131.2,444.6 1133.4,440.1 1135.8,436.4 1138.5,444.6 1141.2,437.3 1143.6,438.2 1145.8,444.6 1148.5,448.2 1150.9,451 1153.4,447.3 1156.3,443.7 1158.9,443.7 1161.2,448.2 1163.6,443.7 1166.7,443.1 1169.1,444.6 1170.3,451.9 1174,451.5 1176.3,444.6 1178.9,443.7 1180,445.5 1182.2,452.8 1185.1,454.6 1187.6,448.2 1190.6,446 1193.1,447.3 1195.5,446 1197.8,450.4 1200.9,449.7 1203.7,450.4 1205.5,459.1 1208.2,452.8 1210.6,446.4 1212.8,445.5 1214.9,451 1217.9,454.6 1220.4,453.3 1222.8,458.8 1225.1,453.3 1227.7,453.7 1230.6,459.1 1233.1,454.6 1236.1,454 1238.6,450 1241.9,450.4 1244.1,454.6 1246.4,458.8 1250.1,458.8 1252.4,450 1255,443.7 1259.2,442.8 1261.5,450 1264.1,458.8 1267,453.7 1269.5,443.7 1271.9,443.1 1274.3,451.9 1276.5,442.8 1279.2,439.5 1281.9,440.9 1283.7,449.1 1285.9,455.5 1288.8,450 1291.4,446.4 1293.8,448.6 1296.1,443.1 1298.3,448.6 1300.1,457.3 1302.3,465.5 1304.7,459.1 1307,451 1309.6,450 1312,454.6 1314.7,453.3 1317.4,454 1320.1,459.5 1322.9,451.9 1325.6,450 1328.3,451.9 1331.1,445.5 1333.3,453.7 1335.6,462.8 1338,455.5 1340.2,449.7 1342.4,454.6 1344.7,459.1 1347.1,453.3 1350.2,454.6 1352.5,462.8 1355.1,459.1 1357.5,455.9 1360.2,459.5 1362.9,455.5 1365.3,452.8 1367.8,457 1370.7,462.8 1373.3,458.2 1375.7,455.9 1378.8,455.5 1381.7,461.9 1384.2,462.8 1386.6,459.1 1389.3,460.1 1392,455.5 1394.4,459.5 1396.6,462.8 1399.3,460.6 1402,461.9 1404.8,459.5 1407.1,459.1 1409.7,454.6 1412.6,452.8 1414.8,454.6 1417.5,459.5 1420.2,455.5 1423,452.8 1428.4,453.3 1431.2,455.5 1433.4,462.8 1435.7,465.5 1438.5,459.5 1440.6,464.6 1443,459.5 1446.6,460.1 1449.4,464.6 1452.1,469.7 1454.8,463.7 1457.6,464.2 1461.2,462.8 1463.9,459.1 1466.7,455.5 1469,462.8 1471.2,469.2 1473.4,462.8 1475.8,455.5 1478.1,462.8 1480.7,469.7 1483,466.4 1485.8,462.8 1488.5,459.5 1491.2,460.6 1493.4,464.6 1495.8,469.2 1498.1,462.8 1501.2,460.6 1504,459.5 1506.7,462.8 1510.3,463.1 1513.1,465.5 1515.8,462.8 1517.6,459.5 1520,464.9 1522.7,461.9 1525.5,455.8 1528.7,456.4 1530.6,462.8 1532.4,468.6 1534.6,462.8 1536.7,456.4 1539.7,456.4 1541.8,464.6 1544.6,462.8 1547.3,465.5 1550,464.2 1552.8,464.9 1555.5,461.9 1557.9,460 1560.4,464.6 1563.7,463.7 1566.4,465.5 1571,464.9 1573.7,461.9 1576.4,462.4 1578.6,459.5 1581,462.8 1582.8,468.6 1585.5,469.1 1587.7,464.9 1590.6,462.8 1593.2,459.5 1596.1,462.8 1598.6,464.9 1601.5,462.8 1603.7,466.4 1606.5,469.1 1609.2,468.6 1611,464.9 1615.6,464.9 1618.3,462.4 1620.5,466.4 1622.8,469.1 1625.2,465.5 1628.3,464.9 1630.7,462.4 1633.8,462.8 1636.1,465.5 1637.9,457.3 1639.8,446.4 1641.6,440 1644.7,440 1646.5,436.9 1652,437.3 1653.2,446.4 1655.6,455.5 1657.4,462.4 1659.8,456.4 1662.3,455.8 1664.7,459.1 1667.1,457.3 1669.2,451.8 1672,446.4 1673.3,442.7 1675.6,446.4 1678,448.2 1680.2,443.1 1683.8,443.1 1686,446.4 1688.4,452.8 1691.5,454.6 1693.3,462.8 1695.1,468.6 1698,468.2 1700.2,464.9 1702.9,464.6 1705.3,462.4 1707.5,466.4 1710.2,472.2 1712.6,471.5 1714.7,465.5 1717.5,462.8 1719.8,465.5 1722.4,468.6 1724.8,465.5 1727.5,466 1730.2,472.2 1732.9,469.1 1735.7,465.5 1738.4,462.8 1741.1,463.7 1743,471.9 1745.7,471.5 1748.4,466.4 1751.1,465.5 1753.3,468.6 1755.7,462.8 1758.1,463.1 1760.2,468.6 1762.4,472.2 1764.8,465.5 1766.6,462.8 1769,468.6 1771.2,471.9 1773.4,465.5 1775.7,460 1778.1,460.6 1780.3,465.5 1781.7,468.6 1783.9,464.9 1787.2,464.9 1789.4,462.8 1791.6,465.5 1793.9,468.6 1796.7,466.4 1799.4,468.6 1803,469.1 1804.8,472.2 1807.6,466.4 1810.3,462.8 1812.7,465.5 1814.5,468.6 1817,472.2 1821.2,471.9 1823,466 1826.7,465.5 1828.5,468.6 1831.2,468.6 1834,465.5 1836.7,466.4 1839.4,469.1 1841.8,472.2 1845.8,471.9 1847.6,469.1 1856.7,469.1 1858.9,465.5 1861.3,469.1 1864,472.8 1865.8,471.7 1867.7,468.5 1870.2,466 1872.1,468.5 1875.2,468.2 1877.1,466 1880,466"/>
</g>
</g>
<text class="tick" x="343.1" y="1504.5">10</text>
<text class="tick" x="599.1" y="1504.5">20</text>
<text class="tick" x="855.1" y="1504.5">30</text>
<text class="tick" x="1111.1" y="1504.5">40</text>
<text class="tick" x="1367.1" y="1504.5">50</text>
<text class="tick" x="1623.1" y="1504.5">60</text>
<text class="tick" x="1879.1" y="1504.5">70</text>
<text class="xtitle" x="1051" y="1634">2 Theta / deg</text>
<text class="ytitle" transform="translate(69 481) rotate(-90)">I (CPS)</text>
<text class="lab" x="1350.8" y="413.4">180min</text>
<text class="lab" x="1373" y="663">80min</text>
<text class="lab" x="1379.6" y="1023.6">40min</text>
<text class="lab" x="1403" y="1333.6">0min</text>
</svg>
</body>
</html>
